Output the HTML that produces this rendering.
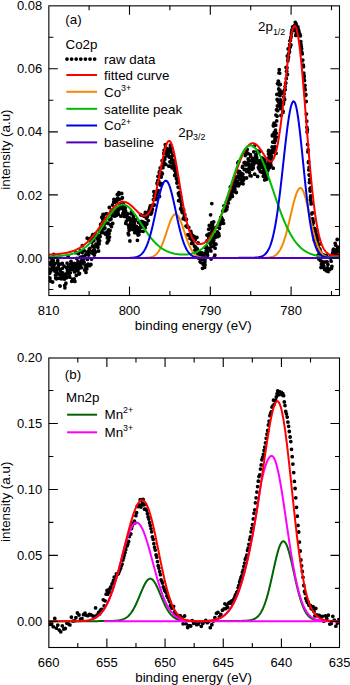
<!DOCTYPE html>
<html><head><meta charset="utf-8"><style>
html,body{margin:0;padding:0;background:#fff;}
svg{display:block;}
text{font-family:"Liberation Sans", sans-serif;font-size:13px;fill:#000;}
</style></head><body>
<svg width="350" height="685" viewBox="0 0 350 685">
<defs><clipPath id="ca"><rect x="48.7" y="6.0" width="290.90" height="289.40"/></clipPath><clipPath id="cb"><rect x="48.7" y="357.6" width="290.90" height="289.80"/></clipPath></defs>
<g clip-path="url(#ca)">
<path d="M48.7 279.7h0M48.9 277.6h0M49.2 272.1h0M49.4 269.1h0M49.7 273.2h0M49.9 278.1h0M50.2 263.0h0M50.4 281.0h0M50.6 264.4h0M50.9 271.1h0M51.1 270.2h0M51.4 269.5h0M51.6 262.6h0M51.9 260.1h0M52.1 266.3h0M52.3 259.3h0M52.6 282.0h0M52.8 260.9h0M53.1 260.4h0M53.3 261.1h0M53.5 255.9h0M53.8 254.5h0M54.0 265.4h0M54.3 268.5h0M54.5 257.3h0M54.8 271.0h0M55.0 263.3h0M55.2 270.9h0M55.5 275.2h0M55.7 277.9h0M56.0 278.7h0M56.2 268.6h0M56.5 278.8h0M56.7 269.7h0M56.9 272.7h0M57.2 274.4h0M57.4 268.5h0M57.7 260.6h0M57.9 273.5h0M58.2 263.1h0M58.4 266.1h0M58.6 264.7h0M58.9 278.2h0M59.1 269.0h0M59.4 257.3h0M59.6 278.1h0M59.9 285.8h0M60.1 286.1h0M60.3 270.3h0M60.6 274.7h0M60.8 277.8h0M61.1 278.8h0M61.3 272.7h0M61.5 263.9h0M61.8 275.9h0M62.0 273.9h0M62.3 263.3h0M62.5 268.3h0M62.8 272.8h0M63.0 273.4h0M63.2 276.2h0M63.5 278.8h0M63.7 277.6h0M64.0 275.6h0M64.2 266.2h0M64.5 279.1h0M64.7 285.4h0M64.9 287.8h0M65.2 274.6h0M65.4 275.3h0M65.7 283.8h0M65.9 283.2h0M66.2 277.0h0M66.4 277.8h0M66.6 267.7h0M66.9 273.4h0M67.1 263.1h0M67.4 270.3h0M67.6 271.5h0M67.8 267.1h0M68.1 256.5h0M68.3 266.0h0M68.6 273.4h0M68.8 272.6h0M69.1 269.2h0M69.3 273.1h0M69.5 276.2h0M69.8 277.2h0M70.0 267.6h0M70.3 272.7h0M70.5 269.3h0M70.8 263.8h0M71.0 261.4h0M71.2 269.2h0M71.5 263.2h0M71.7 281.3h0M72.0 266.7h0M72.2 265.2h0M72.5 265.0h0M72.7 279.5h0M72.9 264.2h0M73.2 269.8h0M73.4 265.0h0M73.7 267.2h0M73.9 269.0h0M74.2 278.8h0M74.4 263.4h0M74.6 271.9h0M74.9 281.4h0M75.1 267.3h0M75.4 270.4h0M75.6 264.1h0M75.8 252.7h0M76.1 267.4h0M76.3 275.4h0M76.6 266.2h0M76.8 258.4h0M77.1 270.7h0M77.3 264.5h0M77.5 269.6h0M77.8 270.4h0M78.0 261.4h0M78.3 267.0h0M78.5 253.6h0M78.8 273.9h0M79.0 268.4h0M79.2 274.0h0M79.5 273.5h0M79.7 263.0h0M80.0 263.4h0M80.2 257.5h0M80.5 250.6h0M80.7 263.9h0M80.9 264.6h0M81.2 257.1h0M81.4 267.6h0M81.7 260.8h0M81.9 261.4h0M82.2 252.4h0M82.4 245.6h0M82.6 262.9h0M82.9 261.6h0M83.1 256.5h0M83.4 256.8h0M83.6 259.5h0M83.8 262.7h0M84.1 262.3h0M84.3 250.8h0M84.6 270.0h0M84.8 257.0h0M85.1 265.2h0M85.3 265.4h0M85.5 268.0h0M85.8 254.6h0M86.0 272.4h0M86.3 269.0h0M86.5 266.5h0M86.8 268.9h0M87.0 252.1h0M87.2 238.2h0M87.5 259.3h0M87.7 265.6h0M88.0 264.1h0M88.2 251.6h0M88.5 253.2h0M88.7 255.1h0M88.9 239.6h0M89.2 249.2h0M89.4 249.2h0M89.7 265.7h0M89.9 248.3h0M90.2 264.9h0M90.4 252.2h0M90.6 238.4h0M90.9 264.5h0M91.1 241.1h0M91.4 252.0h0M91.6 259.1h0M91.8 242.2h0M92.1 236.6h0M92.3 253.0h0M92.6 246.0h0M92.8 234.7h0M93.1 236.8h0M93.3 238.5h0M93.5 250.4h0M93.8 240.5h0M94.0 247.4h0M94.3 255.1h0M94.5 250.2h0M94.8 251.9h0M95.0 252.4h0M95.2 233.8h0M95.5 251.9h0M95.7 246.3h0M96.0 244.2h0M96.2 237.6h0M96.5 235.2h0M96.7 236.9h0M96.9 244.7h0M97.2 236.6h0M97.4 237.4h0M97.7 238.7h0M97.9 247.3h0M98.1 240.8h0M98.4 241.9h0M98.6 251.0h0M98.9 238.6h0M99.1 243.9h0M99.4 231.1h0M99.6 240.8h0M99.8 235.4h0M100.1 236.6h0M100.3 229.4h0M100.6 224.5h0M100.8 228.9h0M101.1 224.9h0M101.3 232.3h0M101.5 230.7h0M101.8 217.2h0M102.0 229.3h0M102.3 222.6h0M102.5 229.0h0M102.8 219.3h0M103.0 214.5h0M103.2 232.7h0M103.5 228.9h0M103.7 217.3h0M104.0 214.4h0M104.2 224.8h0M104.5 219.0h0M104.7 223.4h0M104.9 228.0h0M105.2 233.5h0M105.4 219.6h0M105.7 234.3h0M105.9 234.1h0M106.1 222.6h0M106.4 213.7h0M106.6 233.2h0M106.9 231.9h0M107.1 242.9h0M107.4 237.9h0M107.6 236.9h0M107.8 241.7h0M108.1 223.4h0M108.3 233.3h0M108.6 229.8h0M108.8 240.2h0M109.1 233.5h0M109.3 207.5h0M109.5 237.1h0M109.8 219.8h0M110.0 230.5h0M110.3 219.7h0M110.5 224.9h0M110.8 225.1h0M111.0 218.9h0M111.2 211.3h0M111.5 226.5h0M111.7 215.0h0M112.0 210.1h0M112.2 215.6h0M112.5 205.1h0M112.7 223.4h0M112.9 210.4h0M113.2 211.3h0M113.4 211.7h0M113.7 202.2h0M113.9 199.5h0M114.1 210.3h0M114.4 210.6h0M114.6 216.2h0M114.9 210.7h0M115.1 202.2h0M115.4 213.4h0M115.6 214.3h0M115.8 215.7h0M116.1 210.4h0M116.3 199.3h0M116.6 215.3h0M116.8 201.1h0M117.1 208.2h0M117.3 194.4h0M117.5 209.4h0M117.8 198.1h0M118.0 211.6h0M118.3 214.2h0M118.5 209.8h0M118.8 192.7h0M119.0 194.3h0M119.2 199.4h0M119.5 208.3h0M119.7 207.3h0M120.0 205.3h0M120.2 208.4h0M120.5 206.8h0M120.7 206.7h0M120.9 216.2h0M121.2 204.4h0M121.4 208.5h0M121.7 193.4h0M121.9 198.6h0M122.1 205.9h0M122.4 197.7h0M122.6 208.0h0M122.9 213.4h0M123.1 203.6h0M123.4 204.1h0M123.6 206.2h0M123.8 211.3h0M124.1 206.5h0M124.3 216.4h0M124.6 215.3h0M124.8 213.5h0M125.1 216.3h0M125.3 207.6h0M125.5 210.6h0M125.8 223.4h0M126.0 213.5h0M126.3 221.3h0M126.5 216.7h0M126.8 213.7h0M127.0 215.2h0M127.2 213.4h0M127.5 218.6h0M127.7 213.8h0M128.0 218.7h0M128.2 233.4h0M128.4 225.3h0M128.7 234.8h0M128.9 228.2h0M129.2 230.4h0M129.4 217.9h0M129.7 219.9h0M129.9 241.0h0M130.1 228.2h0M130.4 229.1h0M130.6 223.1h0M130.9 228.1h0M131.1 213.8h0M131.4 211.9h0M131.6 221.5h0M131.8 225.5h0M132.1 219.4h0M132.3 224.4h0M132.6 225.9h0M132.8 229.5h0M133.1 218.3h0M133.3 216.9h0M133.5 227.6h0M133.8 215.5h0M134.0 220.8h0M134.3 223.4h0M134.5 222.0h0M134.8 232.7h0M135.0 226.8h0M135.2 228.0h0M135.5 219.7h0M135.7 219.9h0M136.0 230.6h0M136.2 231.9h0M136.4 226.3h0M136.7 232.6h0M136.9 229.7h0M137.2 229.0h0M137.4 240.3h0M137.7 228.3h0M137.9 234.3h0M138.1 235.1h0M138.4 229.8h0M138.6 222.6h0M138.9 234.6h0M139.1 231.7h0M139.4 231.0h0M139.6 228.7h0M139.8 227.6h0M140.1 222.3h0M140.3 231.2h0M140.6 214.6h0M140.8 225.2h0M141.1 215.1h0M141.3 221.3h0M141.5 227.0h0M141.8 222.2h0M142.0 221.9h0M142.3 226.8h0M142.5 222.1h0M142.8 222.4h0M143.0 221.9h0M143.2 231.3h0M143.5 225.2h0M143.7 224.9h0M144.0 216.2h0M144.2 224.3h0M144.4 215.3h0M144.7 223.0h0M144.9 214.8h0M145.2 227.7h0M145.4 212.5h0M145.7 224.9h0M145.9 223.1h0M146.1 213.0h0M146.4 218.2h0M146.6 224.3h0M146.9 223.8h0M147.1 213.4h0M147.4 216.4h0M147.6 213.4h0M147.8 212.9h0M148.1 214.2h0M148.3 220.6h0M148.6 213.4h0M148.8 211.3h0M149.1 210.2h0M149.3 212.1h0M149.5 212.2h0M149.8 208.0h0M150.0 213.6h0M150.3 206.0h0M150.5 208.4h0M150.8 209.9h0M151.0 214.1h0M151.2 206.0h0M151.5 208.8h0M151.7 212.5h0M152.0 209.1h0M152.2 210.1h0M152.4 209.2h0M152.7 205.2h0M152.9 205.0h0M153.2 205.2h0M153.4 199.6h0M153.7 205.3h0M153.9 191.7h0M154.1 195.8h0M154.4 204.8h0M154.6 198.6h0M154.9 193.2h0M155.1 196.7h0M155.4 198.9h0M155.6 192.5h0M155.8 199.4h0M156.1 193.6h0M156.3 194.0h0M156.6 194.2h0M156.8 198.2h0M157.1 183.2h0M157.3 184.1h0M157.5 192.5h0M157.8 180.6h0M158.0 176.5h0M158.3 190.6h0M158.5 183.3h0M158.7 180.9h0M159.0 181.8h0M159.2 172.2h0M159.5 196.4h0M159.7 171.4h0M160.0 174.4h0M160.2 167.9h0M160.4 176.0h0M160.7 185.2h0M160.9 173.7h0M161.2 177.0h0M161.4 167.9h0M161.7 183.7h0M161.9 172.9h0M162.1 160.7h0M162.4 173.8h0M162.6 165.2h0M162.9 167.7h0M163.1 165.6h0M163.4 163.9h0M163.6 161.6h0M163.8 153.4h0M164.1 150.3h0M164.3 163.2h0M164.6 157.8h0M164.8 159.2h0M165.1 152.7h0M165.3 144.7h0M165.5 147.9h0M165.8 164.4h0M166.0 150.8h0M166.3 154.2h0M166.5 148.4h0M166.7 153.5h0M167.0 155.7h0M167.2 154.2h0M167.5 154.7h0M167.7 149.4h0M168.0 150.7h0M168.2 155.0h0M168.4 154.9h0M168.7 152.0h0M168.9 166.2h0M169.2 157.1h0M169.4 156.6h0M169.7 149.8h0M169.9 161.8h0M170.1 148.0h0M170.4 145.2h0M170.6 151.9h0M170.9 162.8h0M171.1 152.0h0M171.4 166.8h0M171.6 159.0h0M171.8 148.6h0M172.1 156.3h0M172.3 167.9h0M172.6 155.4h0M172.8 155.1h0M173.1 162.8h0M173.3 165.9h0M173.5 165.2h0M173.8 160.3h0M174.0 164.6h0M174.3 165.6h0M174.5 170.3h0M174.7 175.5h0M175.0 169.0h0M175.2 174.6h0M175.5 168.7h0M175.7 173.1h0M176.0 168.6h0M176.2 171.8h0M176.4 178.8h0M176.7 174.7h0M176.9 183.1h0M177.2 178.5h0M177.4 181.3h0M177.7 181.8h0M177.9 182.6h0M178.1 187.1h0M178.4 193.5h0M178.6 200.7h0M178.9 187.6h0M179.1 195.4h0M179.4 194.3h0M179.6 192.3h0M179.8 200.3h0M180.1 197.1h0M180.3 201.2h0M180.6 208.9h0M180.8 197.5h0M181.1 207.9h0M181.3 209.4h0M181.5 204.5h0M181.9 211.7h0M182.3 212.5h0M182.7 211.1h0M183.2 218.8h0M183.6 209.8h0M184.0 217.6h0M184.4 215.8h0M184.8 214.7h0M185.2 219.0h0M185.6 219.8h0M186.0 226.1h0M186.4 219.4h0M186.8 225.6h0M187.2 227.1h0M187.6 234.8h0M188.0 227.0h0M188.4 234.8h0M188.8 227.6h0M189.2 235.2h0M189.6 235.5h0M190.0 238.4h0M190.4 234.8h0M190.8 231.5h0M191.2 233.3h0M191.6 243.4h0M192.0 239.9h0M192.4 235.4h0M192.8 243.0h0M193.3 237.0h0M193.7 238.9h0M194.1 236.4h0M194.5 246.2h0M194.9 250.1h0M195.3 239.5h0M195.7 247.1h0M196.1 251.5h0M196.5 257.1h0M196.9 237.4h0M197.3 248.8h0M197.7 254.8h0M198.1 243.0h0M198.5 255.1h0M198.9 254.3h0M199.3 257.7h0M199.7 254.8h0M200.1 261.6h0M200.5 253.9h0M200.9 262.4h0M201.3 259.7h0M201.7 256.9h0M202.1 252.8h0M202.5 268.3h0M202.9 263.7h0M203.4 264.5h0M203.8 255.5h0M204.2 257.2h0M204.6 267.4h0M205.0 259.6h0M205.4 247.4h0M205.8 252.7h0M206.2 250.9h0M206.6 246.7h0M207.0 240.9h0M207.4 252.5h0M207.8 248.8h0M208.2 241.3h0M208.6 229.3h0M209.0 233.8h0M209.4 237.5h0M209.8 242.8h0M210.2 235.4h0M210.6 243.5h0M211.0 238.2h0M211.4 232.5h0M211.8 222.6h0M212.2 230.3h0M212.6 229.1h0M213.0 235.4h0M213.5 238.4h0M213.9 243.1h0M214.3 235.2h0M214.7 228.2h0M215.1 248.2h0M215.5 237.2h0M215.9 234.2h0M216.3 234.4h0M216.7 227.1h0M217.1 234.5h0M217.5 231.8h0M217.9 236.5h0M218.3 235.1h0M218.7 233.7h0M219.1 235.8h0M219.5 228.3h0M219.9 224.8h0M220.3 222.5h0M220.7 217.3h0M221.1 221.1h0M221.5 217.4h0M221.9 223.2h0M222.3 219.2h0M222.7 211.2h0M223.1 220.3h0M223.6 223.3h0M224.0 205.8h0M224.4 209.3h0M224.8 210.9h0M225.2 205.6h0M225.6 208.8h0M226.0 210.2h0M226.4 201.9h0M226.8 209.2h0M227.2 206.7h0M227.6 198.1h0M228.0 200.7h0M228.4 203.1h0M228.8 195.4h0M229.0 199.1h0M229.3 197.5h0M229.5 194.3h0M229.8 198.9h0M230.0 194.8h0M230.3 186.9h0M230.5 195.5h0M230.7 196.7h0M231.0 195.5h0M231.2 186.3h0M231.5 192.6h0M231.7 196.7h0M232.0 191.1h0M232.2 195.4h0M232.4 196.4h0M232.7 186.6h0M232.9 189.9h0M233.2 185.3h0M233.4 191.8h0M233.7 182.2h0M233.9 178.9h0M234.1 184.4h0M234.4 184.2h0M234.6 187.0h0M234.9 189.4h0M235.1 177.9h0M235.3 179.2h0M235.6 185.3h0M235.8 184.5h0M236.1 181.4h0M236.3 192.5h0M236.6 185.5h0M236.8 177.7h0M237.0 181.6h0M237.3 182.1h0M237.5 176.6h0M237.8 162.8h0M238.0 171.2h0M238.3 172.6h0M238.5 185.8h0M238.7 161.6h0M239.0 184.8h0M239.2 174.1h0M239.5 179.0h0M239.7 171.6h0M240.0 175.8h0M240.2 183.2h0M240.4 176.9h0M240.7 182.8h0M240.9 177.5h0M241.2 174.6h0M241.4 175.0h0M241.7 173.7h0M241.9 173.8h0M242.1 181.1h0M242.4 167.3h0M242.6 166.5h0M242.9 174.2h0M243.1 183.8h0M243.3 178.7h0M243.6 180.0h0M243.8 177.7h0M244.1 162.8h0M244.3 169.7h0M244.6 152.2h0M244.8 162.3h0M245.0 169.5h0M245.3 155.6h0M245.5 151.1h0M245.8 154.7h0M246.0 164.9h0M246.3 169.6h0M246.5 178.0h0M246.7 171.6h0M247.0 153.2h0M247.2 149.5h0M247.5 164.0h0M247.7 170.5h0M248.0 153.3h0M248.2 159.0h0M248.4 161.8h0M248.7 163.3h0M248.9 160.7h0M249.2 167.5h0M249.4 172.4h0M249.6 166.2h0M249.9 169.1h0M250.1 175.7h0M250.4 154.7h0M250.6 156.1h0M250.9 165.8h0M251.1 175.9h0M251.3 165.2h0M251.6 168.8h0M251.8 160.7h0M252.1 169.3h0M252.3 158.4h0M252.6 165.9h0M252.8 162.9h0M253.0 161.5h0M253.3 168.1h0M253.5 164.9h0M253.8 151.8h0M254.0 162.3h0M254.3 146.2h0M254.5 160.2h0M254.7 174.2h0M255.0 159.4h0M255.2 158.1h0M255.5 156.0h0M255.7 162.5h0M256.0 154.7h0M256.2 161.8h0M256.4 156.5h0M256.7 157.8h0M256.9 162.1h0M257.2 160.1h0M257.4 151.0h0M257.6 176.4h0M257.9 161.6h0M258.1 151.5h0M258.4 167.5h0M258.6 162.2h0M258.9 164.2h0M259.1 169.2h0M259.3 161.4h0M259.6 151.5h0M259.8 164.9h0M260.1 167.5h0M260.3 171.5h0M260.6 160.5h0M260.8 161.7h0M261.0 166.6h0M261.3 163.6h0M261.5 166.0h0M261.8 167.3h0M262.0 158.0h0M262.3 172.4h0M262.4 158.4h0M262.5 164.4h0M262.7 163.5h0M262.8 158.8h0M263.0 166.7h0M263.1 172.6h0M263.3 176.3h0M263.4 171.6h0M263.6 166.2h0M263.7 173.5h0M263.9 160.8h0M264.0 169.7h0M264.1 172.0h0M264.3 172.6h0M264.4 161.4h0M264.6 159.4h0M264.7 179.9h0M264.9 169.0h0M265.0 161.4h0M265.2 163.7h0M265.3 171.2h0M265.5 179.0h0M265.6 172.1h0M265.7 179.0h0M265.9 175.7h0M266.0 176.8h0M266.2 179.3h0M266.3 173.4h0M266.5 179.0h0M266.6 175.3h0M266.8 173.3h0M266.9 179.1h0M267.1 170.0h0M267.2 174.6h0M267.3 167.8h0M267.5 169.3h0M267.6 165.9h0M267.8 170.5h0M267.9 164.5h0M268.1 163.9h0M268.2 169.2h0M268.4 151.2h0M268.5 153.9h0M268.7 150.3h0M268.8 158.0h0M268.9 161.3h0M269.1 161.7h0M269.2 160.1h0M269.4 156.1h0M269.5 167.6h0M269.7 162.9h0M269.8 160.3h0M270.0 156.3h0M270.1 163.7h0M270.3 158.3h0M270.4 159.0h0M270.5 163.5h0M270.7 162.1h0M270.8 155.0h0M271.0 165.5h0M271.1 152.3h0M271.3 151.2h0M271.4 159.9h0M271.6 158.0h0M271.7 156.1h0M271.9 151.4h0M272.0 152.5h0M272.1 146.9h0M272.3 135.8h0M272.4 150.3h0M272.6 134.8h0M272.7 142.1h0M272.9 150.5h0M273.0 142.2h0M273.2 168.2h0M273.3 125.3h0M273.5 125.9h0M273.6 135.4h0M273.7 147.4h0M273.9 133.7h0M274.0 123.2h0M274.2 150.0h0M274.3 132.5h0M274.5 142.4h0M274.6 152.6h0M274.8 133.9h0M274.9 139.2h0M275.1 146.6h0M275.2 138.5h0M275.3 147.4h0M275.5 130.2h0M275.6 140.3h0M275.8 125.2h0M275.9 115.1h0M276.1 153.3h0M276.2 133.2h0M276.4 137.1h0M276.5 109.8h0M276.7 120.9h0M276.8 109.7h0M276.9 94.4h0M277.1 116.2h0M277.2 99.5h0M277.4 105.9h0M277.5 83.6h0M277.7 110.7h0M277.8 106.1h0M278.0 100.9h0M278.1 83.7h0M278.3 81.1h0M278.4 101.6h0M278.5 81.4h0M278.7 89.0h0M278.8 84.8h0M279.0 72.9h0M279.1 104.1h0M279.3 69.6h0M279.4 92.9h0M279.6 90.9h0M279.7 73.2h0M279.9 90.2h0M280.0 95.7h0M280.1 93.8h0M280.3 84.5h0M280.4 100.0h0M280.6 108.4h0M280.7 101.1h0M281.0 115.4h0M281.2 106.2h0M281.5 102.3h0M281.7 108.8h0M281.9 92.1h0M282.2 93.0h0M282.4 103.8h0M282.7 103.3h0M282.9 112.4h0M283.1 111.5h0M283.4 104.1h0M283.6 102.3h0M283.9 97.0h0M284.1 93.8h0M284.4 90.3h0M284.6 99.5h0M284.8 89.7h0M285.1 86.6h0M285.3 89.6h0M285.6 83.3h0M285.8 83.0h0M286.1 67.4h0M286.3 78.4h0M286.5 71.2h0M286.8 71.2h0M287.0 67.8h0M287.3 55.9h0M287.5 74.5h0M287.8 60.8h0M288.0 59.2h0M288.2 48.9h0M288.5 57.0h0M288.7 53.4h0M289.0 48.1h0M289.2 49.4h0M289.5 51.8h0M289.7 44.6h0M289.9 40.8h0M290.2 47.0h0M290.4 40.4h0M290.7 38.1h0M290.9 45.0h0M291.1 36.6h0M291.4 33.6h0M291.6 32.5h0M291.9 30.0h0M292.1 30.8h0M292.4 29.8h0M292.6 26.8h0M292.8 27.3h0M293.1 28.5h0M293.3 28.4h0M293.6 28.8h0M293.8 28.5h0M294.1 26.4h0M294.3 27.6h0M294.5 25.7h0M294.8 27.0h0M295.0 30.2h0M295.3 22.3h0M295.5 29.1h0M295.8 35.4h0M296.0 23.6h0M296.2 33.3h0M296.5 25.6h0M296.7 29.7h0M297.0 31.0h0M297.2 31.2h0M297.5 27.1h0M297.7 26.9h0M297.9 26.9h0M298.2 29.6h0M298.4 29.6h0M298.7 30.3h0M298.9 31.4h0M299.1 32.8h0M299.4 34.1h0M299.6 34.9h0M299.9 34.1h0M300.1 41.6h0M300.4 35.8h0M300.6 43.1h0M300.8 41.6h0M301.1 45.0h0M301.3 46.6h0M301.6 48.7h0M301.8 52.1h0M302.1 53.3h0M302.3 53.8h0M302.5 60.8h0M302.8 60.1h0M303.0 66.8h0M303.3 65.1h0M303.5 66.7h0M303.8 73.2h0M304.0 77.7h0M304.2 76.0h0M304.5 80.5h0M304.7 88.1h0M305.0 85.3h0M305.2 89.8h0M305.5 95.5h0M305.7 94.4h0M305.9 94.7h0M306.2 101.5h0M306.4 114.1h0M306.7 121.2h0M306.9 127.3h0M307.1 132.0h0M307.4 129.6h0M307.6 144.4h0M307.9 151.9h0M308.1 149.8h0M308.4 162.6h0M308.6 161.7h0M308.8 169.8h0M309.1 174.8h0M309.2 167.5h0M309.4 182.6h0M309.5 175.3h0M309.7 179.6h0M309.8 179.6h0M310.0 188.6h0M310.1 190.4h0M310.2 191.0h0M310.4 199.8h0M310.5 197.2h0M310.7 196.0h0M310.8 187.6h0M311.0 201.6h0M311.1 203.9h0M311.3 203.9h0M311.4 203.7h0M311.6 213.9h0M311.7 219.1h0M311.8 222.9h0M312.0 220.7h0M312.1 213.2h0M312.3 218.9h0M312.4 212.9h0M312.6 224.5h0M312.7 221.9h0M312.9 218.9h0M313.0 222.4h0M313.2 222.9h0M313.3 221.6h0M313.4 231.3h0M313.6 236.1h0M313.7 230.1h0M313.9 232.3h0M314.0 229.9h0M314.2 228.6h0M314.3 239.9h0M314.5 228.5h0M314.6 231.7h0M314.8 230.4h0M314.9 234.2h0M315.0 232.2h0M315.2 236.4h0M315.3 230.1h0M315.5 235.9h0M315.6 242.1h0M315.8 233.1h0M315.9 233.8h0M316.1 242.1h0M316.2 237.6h0M316.4 241.0h0M316.5 230.0h0M316.6 239.9h0M316.8 234.4h0M316.9 234.4h0M317.1 241.9h0M317.2 245.1h0M317.4 235.9h0M317.5 238.4h0M317.7 240.4h0M317.8 243.9h0M318.0 239.9h0M318.1 255.1h0M318.2 249.6h0M318.4 245.3h0M318.5 245.0h0M318.7 257.5h0M318.8 258.9h0M319.0 248.4h0M319.1 249.9h0M319.3 253.5h0M319.4 244.1h0M319.6 248.8h0M319.7 257.2h0M319.8 250.3h0M320.0 252.6h0M320.1 249.8h0M320.3 254.3h0M320.4 260.5h0M320.6 254.6h0M320.7 252.5h0M320.9 255.6h0M321.0 267.5h0M321.4 264.3h0M321.8 261.5h0M322.2 265.1h0M322.6 267.0h0M323.0 264.9h0M323.4 255.0h0M323.8 266.0h0M324.2 262.2h0M324.6 269.5h0M325.1 257.0h0M325.5 268.9h0M325.9 261.9h0M326.3 255.3h0M326.7 270.9h0M327.1 261.8h0M327.5 267.9h0M327.9 264.5h0M328.3 271.6h0M328.7 270.8h0M329.1 270.0h0M329.5 269.6h0M329.9 256.8h0M330.3 258.0h0M330.7 268.8h0M331.1 261.2h0M331.5 268.4h0M331.9 266.5h0M332.3 254.6h0M332.7 252.7h0M333.1 250.1h0M333.5 249.2h0M333.9 250.5h0M334.3 253.5h0M334.7 253.3h0M335.2 243.3h0M335.6 245.1h0M336.0 253.7h0M336.4 251.9h0M336.8 249.4h0M337.2 239.5h0M337.6 247.2h0M338.0 251.6h0M338.4 247.9h0M338.8 255.4h0M339.2 247.7h0M339.6 247.5h0M199.5 251.7h0M201.3 253.8h0M203.0 258.9h0M204.9 262.0h0M198.5 258.0h0M205.0 265.0h0M203.1 258.6h0M200.7 259.1h0M205.6 253.8h0M202.2 256.8h0M206.3 251.2h0M207.6 255.3h0M214.9 255.1h0M210.8 227.7h0M216.0 244.2h0M212.5 230.4h0M211.3 246.5h0M212.6 225.1h0M213.8 240.0h0M209.8 249.0h0M211.2 246.3h0M210.5 240.7h0M208.5 240.9h0M208.7 238.1h0M206.9 235.1h0M212.8 242.3h0M213.7 221.9h0M214.3 257.1h0M209.3 225.5h0M210.5 235.7h0M211.8 203.6h0M212.6 232.6h0M209.6 248.4h0M210.9 250.9h0M212.5 231.8h0M213.6 246.5h0M210.6 214.8h0M210.5 244.0h0M211.1 259.1h0M212.0 238.5h0" stroke="#000" stroke-width="3.8" stroke-linecap="round" fill="none"/>
<polyline points="48.70,254.68 49.19,254.65 49.67,254.63 50.16,254.60 50.64,254.58 51.13,254.55 51.61,254.52 52.10,254.49 52.58,254.46 53.07,254.43 53.56,254.40 54.04,254.36 54.53,254.33 55.01,254.29 55.50,254.25 55.98,254.21 56.47,254.17 56.96,254.13 57.44,254.09 57.93,254.04 58.41,253.99 58.90,253.94 59.38,253.89 59.87,253.83 60.35,253.78 60.84,253.72 61.33,253.66 61.81,253.59 62.30,253.53 62.78,253.46 63.27,253.38 63.75,253.31 64.24,253.23 64.73,253.14 65.21,253.06 65.70,252.97 66.18,252.87 66.67,252.77 67.15,252.67 67.64,252.56 68.12,252.45 68.61,252.34 69.10,252.21 69.58,252.09 70.07,251.96 70.55,251.82 71.04,251.68 71.52,251.53 72.01,251.37 72.49,251.21 72.98,251.04 73.47,250.87 73.95,250.68 74.44,250.50 74.92,250.30 75.41,250.09 75.89,249.88 76.38,249.66 76.87,249.43 77.35,249.20 77.84,248.95 78.32,248.70 78.81,248.43 79.29,248.16 79.78,247.88 80.26,247.58 80.75,247.28 81.24,246.97 81.72,246.65 82.21,246.31 82.69,245.97 83.18,245.62 83.66,245.25 84.15,244.88 84.64,244.49 85.12,244.09 85.61,243.68 86.09,243.26 86.58,242.82 87.06,242.38 87.55,241.92 88.03,241.46 88.52,240.98 89.01,240.49 89.49,239.98 89.98,239.47 90.46,238.94 90.95,238.41 91.43,237.86 91.92,237.30 92.40,236.73 92.89,236.14 93.38,235.55 93.86,234.95 94.35,234.34 94.83,233.71 95.32,233.08 95.80,232.44 96.29,231.79 96.78,231.13 97.26,230.46 97.75,229.78 98.23,229.10 98.72,228.41 99.20,227.71 99.69,227.01 100.17,226.30 100.66,225.59 101.15,224.87 101.63,224.15 102.12,223.42 102.60,222.70 103.09,221.97 103.57,221.24 104.06,220.51 104.55,219.78 105.03,219.06 105.52,218.33 106.00,217.61 106.49,216.89 106.97,216.18 107.46,215.47 107.94,214.77 108.43,214.08 108.92,213.39 109.40,212.72 109.89,212.05 110.37,211.40 110.86,210.76 111.34,210.14 111.83,209.53 112.31,208.93 112.80,208.35 113.29,207.79 113.77,207.25 114.26,206.73 114.74,206.23 115.23,205.76 115.71,205.30 116.20,204.87 116.69,204.46 117.17,204.08 117.66,203.73 118.14,203.40 118.63,203.11 119.11,202.84 119.60,202.60 120.08,202.39 120.57,202.21 121.06,202.06 121.54,201.94 122.03,201.85 122.51,201.79 123.00,201.77 123.48,201.77 123.97,201.81 124.46,201.87 124.94,201.97 125.43,202.10 125.91,202.25 126.40,202.44 126.88,202.65 127.37,202.88 127.85,203.15 128.34,203.44 128.83,203.75 129.31,204.08 129.80,204.44 130.28,204.82 130.77,205.21 131.25,205.62 131.74,206.05 132.22,206.49 132.71,206.95 133.20,207.42 133.68,207.89 134.17,208.37 134.65,208.86 135.14,209.35 135.62,209.84 136.11,210.33 136.60,210.82 137.08,211.30 137.57,211.77 138.05,212.24 138.54,212.68 139.02,213.11 139.51,213.53 139.99,213.91 140.48,214.28 140.97,214.61 141.45,214.91 141.94,215.18 142.42,215.40 142.91,215.59 143.39,215.72 143.88,215.81 144.37,215.84 144.85,215.81 145.34,215.72 145.82,215.56 146.31,215.33 146.79,215.03 147.28,214.65 147.76,214.19 148.25,213.64 148.74,213.01 149.22,212.28 149.71,211.46 150.19,210.55 150.68,209.54 151.16,208.42 151.65,207.21 152.13,205.90 152.62,204.48 153.11,202.96 153.59,201.35 154.08,199.63 154.56,197.82 155.05,195.91 155.53,193.92 156.02,191.84 156.51,189.69 156.99,187.46 157.48,185.16 157.96,182.81 158.45,180.40 158.93,177.96 159.42,175.48 159.90,172.99 160.39,170.49 160.88,168.00 161.36,165.52 161.85,163.07 162.33,160.68 162.82,158.34 163.30,156.09 163.79,153.93 164.28,151.88 164.76,149.96 165.25,148.18 165.73,146.56 166.22,145.12 166.70,143.87 167.19,142.83 167.67,142.00 168.16,141.40 168.65,141.03 169.13,140.91 169.62,141.03 170.10,141.39 170.59,142.00 171.07,142.85 171.56,143.94 172.04,145.25 172.53,146.77 173.02,148.50 173.50,150.42 173.99,152.51 174.47,154.75 174.96,157.14 175.44,159.66 175.93,162.28 176.42,165.00 176.90,167.80 177.39,170.66 177.87,173.56 178.36,176.50 178.84,179.46 179.33,182.42 179.81,185.38 180.30,188.32 180.79,191.24 181.27,194.11 181.76,196.94 182.24,199.72 182.73,202.43 183.21,205.07 183.70,207.64 184.19,210.12 184.67,212.52 185.16,214.83 185.64,217.06 186.13,219.18 186.61,221.21 187.10,223.15 187.58,224.98 188.07,226.72 188.56,228.36 189.04,229.91 189.53,231.36 190.01,232.71 190.50,233.98 190.98,235.15 191.47,236.24 191.95,237.24 192.44,238.16 192.93,239.01 193.41,239.77 193.90,240.46 194.38,241.09 194.87,241.64 195.35,242.14 195.84,242.57 196.33,242.94 196.81,243.25 197.30,243.52 197.78,243.73 198.27,243.89 198.75,244.01 199.24,244.09 199.72,244.12 200.21,244.11 200.70,244.07 201.18,243.99 201.67,243.87 202.15,243.72 202.64,243.53 203.12,243.31 203.61,243.07 204.09,242.79 204.58,242.48 205.07,242.14 205.55,241.78 206.04,241.38 206.52,240.96 207.01,240.51 207.49,240.04 207.98,239.54 208.47,239.01 208.95,238.45 209.44,237.87 209.92,237.26 210.41,236.62 210.89,235.95 211.38,235.26 211.86,234.55 212.35,233.80 212.84,233.03 213.32,232.23 213.81,231.41 214.29,230.55 214.78,229.68 215.26,228.77 215.75,227.84 216.24,226.88 216.72,225.89 217.21,224.88 217.69,223.84 218.18,222.78 218.66,221.69 219.15,220.57 219.63,219.43 220.12,218.27 220.61,217.08 221.09,215.87 221.58,214.63 222.06,213.37 222.55,212.09 223.03,210.79 223.52,209.47 224.00,208.13 224.49,206.77 224.98,205.39 225.46,204.00 225.95,202.59 226.43,201.16 226.92,199.72 227.40,198.27 227.89,196.81 228.38,195.34 228.86,193.85 229.35,192.37 229.83,190.87 230.32,189.37 230.80,187.87 231.29,186.36 231.77,184.86 232.26,183.36 232.75,181.86 233.23,180.36 233.72,178.87 234.20,177.39 234.69,175.92 235.17,174.46 235.66,173.02 236.15,171.58 236.63,170.17 237.12,168.77 237.60,167.40 238.09,166.05 238.57,164.72 239.06,163.41 239.54,162.14 240.03,160.89 240.52,159.67 241.00,158.49 241.49,157.34 241.97,156.22 242.46,155.14 242.94,154.10 243.43,153.10 243.91,152.15 244.40,151.23 244.89,150.36 245.37,149.54 245.86,148.76 246.34,148.03 246.83,147.35 247.31,146.72 247.80,146.13 248.29,145.60 248.77,145.13 249.26,144.70 249.74,144.33 250.23,144.02 250.71,143.75 251.20,143.54 251.68,143.39 252.17,143.29 252.66,143.25 253.14,143.26 253.63,143.32 254.11,143.44 254.60,143.60 255.08,143.82 255.57,144.10 256.06,144.42 256.54,144.78 257.03,145.20 257.51,145.66 258.00,146.16 258.48,146.71 258.97,147.29 259.45,147.90 259.94,148.55 260.43,149.23 260.91,149.94 261.40,150.67 261.88,151.41 262.37,152.17 262.85,152.94 263.34,153.71 263.82,154.48 264.31,155.25 264.80,156.00 265.28,156.73 265.77,157.44 266.25,158.12 266.74,158.75 267.22,159.33 267.71,159.86 268.20,160.33 268.68,160.72 269.17,161.03 269.65,161.26 270.14,161.38 270.62,161.39 271.11,161.29 271.59,161.06 272.08,160.69 272.57,160.18 273.05,159.52 273.54,158.69 274.02,157.70 274.51,156.53 274.99,155.18 275.48,153.64 275.97,151.90 276.45,149.97 276.94,147.84 277.42,145.51 277.91,142.97 278.39,140.23 278.88,137.29 279.36,134.16 279.85,130.83 280.34,127.32 280.82,123.63 281.31,119.78 281.79,115.77 282.28,111.63 282.76,107.36 283.25,102.98 283.73,98.52 284.22,93.98 284.71,89.40 285.19,84.79 285.68,80.18 286.16,75.59 286.65,71.05 287.13,66.59 287.62,62.23 288.11,58.00 288.59,53.93 289.08,50.04 289.56,46.35 290.05,42.91 290.53,39.72 291.02,36.81 291.50,34.21 291.99,31.94 292.48,30.01 292.96,28.44 293.45,27.25 293.93,26.44 294.42,26.03 294.90,26.03 295.39,26.44 295.88,27.26 296.36,28.50 296.85,30.14 297.33,32.19 297.82,34.63 298.30,37.46 298.79,40.65 299.27,44.21 299.76,48.10 300.25,52.32 300.73,56.83 301.22,61.62 301.70,66.66 302.19,71.93 302.67,77.40 303.16,83.05 303.64,88.85 304.13,94.77 304.62,100.78 305.10,106.87 305.59,113.00 306.07,119.15 306.56,125.29 307.04,131.41 307.53,137.47 308.02,143.47 308.50,149.37 308.99,155.16 309.47,160.83 309.96,166.35 310.44,171.73 310.93,176.93 311.41,181.97 311.90,186.82 312.39,191.48 312.87,195.94 313.36,200.21 313.84,204.28 314.33,208.14 314.81,211.80 315.30,215.27 315.79,218.53 316.27,221.60 316.76,224.49 317.24,227.18 317.73,229.70 318.21,232.04 318.70,234.22 319.18,236.24 319.67,238.10 320.16,239.82 320.64,241.41 321.13,242.86 321.61,244.19 322.10,245.41 322.58,246.51 323.07,247.52 323.55,248.44 324.04,249.27 324.53,250.02 325.01,250.69 325.50,251.30 325.98,251.85 326.47,252.33 326.95,252.77 327.44,253.16 327.93,253.51 328.41,253.82 328.90,254.09 329.38,254.34 329.87,254.55 330.35,254.74 330.84,254.91 331.32,255.05 331.81,255.18 332.30,255.30 332.78,255.39 333.27,255.48 333.75,255.56 334.24,255.62 334.72,255.68 335.21,255.73 335.70,255.77 336.18,255.81 336.67,255.84 337.15,255.87 337.64,255.90 338.12,255.92 338.61,255.94 339.09,255.95 339.58,255.97" fill="none" stroke="#ff0000" stroke-width="2.0" stroke-linejoin="round"/>
<polyline points="48.70,258.00 49.19,258.00 49.67,258.00 50.16,258.00 50.64,258.00 51.13,258.00 51.61,258.00 52.10,258.00 52.58,258.00 53.07,258.00 53.56,258.00 54.04,258.00 54.53,258.00 55.01,258.00 55.50,258.00 55.98,258.00 56.47,258.00 56.96,258.00 57.44,258.00 57.93,258.00 58.41,258.00 58.90,258.00 59.38,258.00 59.87,258.00 60.35,258.00 60.84,258.00 61.33,258.00 61.81,258.00 62.30,258.00 62.78,258.00 63.27,258.00 63.75,258.00 64.24,258.00 64.73,258.00 65.21,258.00 65.70,258.00 66.18,258.00 66.67,258.00 67.15,258.00 67.64,258.00 68.12,258.00 68.61,258.00 69.10,258.00 69.58,258.00 70.07,258.00 70.55,258.00 71.04,258.00 71.52,258.00 72.01,258.00 72.49,258.00 72.98,258.00 73.47,258.00 73.95,258.00 74.44,258.00 74.92,258.00 75.41,258.00 75.89,258.00 76.38,258.00 76.87,258.00 77.35,258.00 77.84,258.00 78.32,258.00 78.81,258.00 79.29,258.00 79.78,258.00 80.26,258.00 80.75,258.00 81.24,258.00 81.72,258.00 82.21,258.00 82.69,258.00 83.18,258.00 83.66,258.00 84.15,258.00 84.64,258.00 85.12,258.00 85.61,258.00 86.09,258.00 86.58,258.00 87.06,258.00 87.55,258.00 88.03,258.00 88.52,258.00 89.01,258.00 89.49,258.00 89.98,258.00 90.46,258.00 90.95,258.00 91.43,258.00 91.92,258.00 92.40,258.00 92.89,258.00 93.38,258.00 93.86,258.00 94.35,258.00 94.83,258.00 95.32,258.00 95.80,258.00 96.29,258.00 96.78,258.00 97.26,258.00 97.75,258.00 98.23,258.00 98.72,258.00 99.20,258.00 99.69,258.00 100.17,258.00 100.66,258.00 101.15,258.00 101.63,258.00 102.12,258.00 102.60,258.00 103.09,258.00 103.57,258.00 104.06,258.00 104.55,258.00 105.03,258.00 105.52,258.00 106.00,258.00 106.49,258.00 106.97,258.00 107.46,258.00 107.94,258.00 108.43,258.00 108.92,258.00 109.40,258.00 109.89,258.00 110.37,258.00 110.86,258.00 111.34,258.00 111.83,258.00 112.31,258.00 112.80,258.00 113.29,258.00 113.77,258.00 114.26,258.00 114.74,258.00 115.23,258.00 115.71,258.00 116.20,258.00 116.69,258.00 117.17,258.00 117.66,258.00 118.14,258.00 118.63,258.00 119.11,258.00 119.60,258.00 120.08,258.00 120.57,258.00 121.06,258.00 121.54,258.00 122.03,258.00 122.51,258.00 123.00,258.00 123.48,258.00 123.97,258.00 124.46,258.00 124.94,258.00 125.43,258.00 125.91,258.00 126.40,258.00 126.88,258.00 127.37,258.00 127.85,258.00 128.34,258.00 128.83,258.00 129.31,258.00 129.80,258.00 130.28,258.00 130.77,258.00 131.25,258.00 131.74,258.00 132.22,258.00 132.71,258.00 133.20,258.00 133.68,258.00 134.17,258.00 134.65,258.00 135.14,258.00 135.62,258.00 136.11,258.00 136.60,257.99 137.08,257.99 137.57,257.99 138.05,257.99 138.54,257.99 139.02,257.99 139.51,257.99 139.99,257.99 140.48,257.98 140.97,257.98 141.45,257.98 141.94,257.97 142.42,257.96 142.91,257.96 143.39,257.95 143.88,257.94 144.37,257.92 144.85,257.91 145.34,257.89 145.82,257.86 146.31,257.84 146.79,257.81 147.28,257.77 147.76,257.72 148.25,257.67 148.74,257.61 149.22,257.54 149.71,257.45 150.19,257.36 150.68,257.25 151.16,257.12 151.65,256.97 152.13,256.81 152.62,256.62 153.11,256.40 153.59,256.16 154.08,255.88 154.56,255.58 155.05,255.23 155.53,254.85 156.02,254.43 156.51,253.96 156.99,253.44 157.48,252.88 157.96,252.26 158.45,251.59 158.93,250.86 159.42,250.07 159.90,249.22 160.39,248.31 160.88,247.34 161.36,246.31 161.85,245.22 162.33,244.08 162.82,242.87 163.30,241.62 163.79,240.31 164.28,238.96 164.76,237.57 165.25,236.14 165.73,234.69 166.22,233.22 166.70,231.74 167.19,230.26 167.67,228.79 168.16,227.33 168.65,225.90 169.13,224.50 169.62,223.16 170.10,221.87 170.59,220.66 171.07,219.52 171.56,218.47 172.04,217.51 172.53,216.67 173.02,215.93 173.50,215.32 173.99,214.83 174.47,214.48 174.96,214.25 175.44,214.17 175.93,214.21 176.42,214.40 176.90,214.72 177.39,215.17 177.87,215.74 178.36,216.44 178.84,217.26 179.33,218.18 179.81,219.20 180.30,220.32 180.79,221.51 181.27,222.78 181.76,224.11 182.24,225.49 182.73,226.91 183.21,228.36 183.70,229.83 184.19,231.31 184.67,232.79 185.16,234.27 185.64,235.72 186.13,237.16 186.61,238.56 187.10,239.92 187.58,241.24 188.07,242.51 188.56,243.73 189.04,244.90 189.53,246.00 190.01,247.05 190.50,248.04 190.98,248.96 191.47,249.83 191.95,250.63 192.44,251.38 192.93,252.07 193.41,252.70 193.90,253.28 194.38,253.81 194.87,254.29 195.35,254.73 195.84,255.13 196.33,255.48 196.81,255.80 197.30,256.08 197.78,256.33 198.27,256.56 198.75,256.75 199.24,256.93 199.72,257.08 200.21,257.21 200.70,257.33 201.18,257.43 201.67,257.51 202.15,257.59 202.64,257.65 203.12,257.71 203.61,257.75 204.09,257.79 204.58,257.83 205.07,257.86 205.55,257.88 206.04,257.90 206.52,257.92 207.01,257.93 207.49,257.94 207.98,257.95 208.47,257.96 208.95,257.97 209.44,257.97 209.92,257.98 210.41,257.98 210.89,257.98 211.38,257.99 211.86,257.99 212.35,257.99 212.84,257.99 213.32,257.99 213.81,257.99 214.29,257.99 214.78,257.99 215.26,257.99 215.75,258.00 216.24,258.00 216.72,258.00 217.21,258.00 217.69,258.00 218.18,258.00 218.66,258.00 219.15,258.00 219.63,258.00 220.12,258.00 220.61,258.00 221.09,258.00 221.58,258.00 222.06,258.00 222.55,258.00 223.03,258.00 223.52,258.00 224.00,258.00 224.49,258.00 224.98,258.00 225.46,258.00 225.95,258.00 226.43,258.00 226.92,258.00 227.40,258.00 227.89,258.00 228.38,258.00 228.86,258.00 229.35,258.00 229.83,258.00 230.32,258.00 230.80,258.00 231.29,258.00 231.77,258.00 232.26,258.00 232.75,258.00 233.23,258.00 233.72,258.00 234.20,258.00 234.69,258.00 235.17,258.00 235.66,258.00 236.15,258.00 236.63,258.00 237.12,258.00 237.60,258.00 238.09,258.00 238.57,258.00 239.06,258.00 239.54,258.00 240.03,258.00 240.52,258.00 241.00,258.00 241.49,258.00 241.97,258.00 242.46,258.00 242.94,258.00 243.43,258.00 243.91,258.00 244.40,258.00 244.89,258.00 245.37,258.00 245.86,258.00 246.34,258.00 246.83,258.00 247.31,258.00 247.80,258.00 248.29,258.00 248.77,258.00 249.26,258.00 249.74,258.00 250.23,258.00 250.71,258.00 251.20,258.00 251.68,258.00 252.17,258.00 252.66,257.99 253.14,257.99 253.63,257.99 254.11,257.99 254.60,257.99 255.08,257.99 255.57,257.99 256.06,257.99 256.54,257.99 257.03,257.99 257.51,257.99 258.00,257.99 258.48,257.99 258.97,257.99 259.45,257.98 259.94,257.98 260.43,257.98 260.91,257.97 261.40,257.97 261.88,257.96 262.37,257.96 262.85,257.95 263.34,257.94 263.82,257.93 264.31,257.91 264.80,257.90 265.28,257.88 265.77,257.86 266.25,257.83 266.74,257.80 267.22,257.76 267.71,257.72 268.20,257.67 268.68,257.62 269.17,257.55 269.65,257.48 270.14,257.40 270.62,257.30 271.11,257.19 271.59,257.06 272.08,256.91 272.57,256.75 273.05,256.56 273.54,256.35 274.02,256.12 274.51,255.85 274.99,255.56 275.48,255.23 275.97,254.86 276.45,254.46 276.94,254.01 277.42,253.51 277.91,252.97 278.39,252.37 278.88,251.72 279.36,251.01 279.85,250.23 280.34,249.39 280.82,248.49 281.31,247.51 281.79,246.47 282.28,245.35 282.76,244.15 283.25,242.88 283.73,241.53 284.22,240.11 284.71,238.61 285.19,237.04 285.68,235.39 286.16,233.67 286.65,231.89 287.13,230.05 287.62,228.15 288.11,226.19 288.59,224.19 289.08,222.16 289.56,220.09 290.05,218.01 290.53,215.91 291.02,213.81 291.50,211.72 291.99,209.64 292.48,207.60 292.96,205.60 293.45,203.66 293.93,201.78 294.42,199.98 294.90,198.26 295.39,196.65 295.88,195.14 296.36,193.76 296.85,192.51 297.33,191.40 297.82,190.43 298.30,189.62 298.79,188.96 299.27,188.47 299.76,188.15 300.25,188.00 300.73,188.03 301.22,188.24 301.70,188.65 302.19,189.25 302.67,190.04 303.16,191.00 303.64,192.13 304.13,193.42 304.62,194.86 305.10,196.44 305.59,198.15 306.07,199.97 306.56,201.90 307.04,203.91 307.53,205.99 308.02,208.13 308.50,210.32 308.99,212.54 309.47,214.77 309.96,217.01 310.44,219.24 310.93,221.45 311.41,223.63 311.90,225.77 312.39,227.86 312.87,229.89 313.36,231.86 313.84,233.76 314.33,235.58 314.81,237.33 315.30,238.99 315.79,240.56 316.27,242.05 316.76,243.45 317.24,244.77 317.73,246.00 318.21,247.14 318.70,248.21 319.18,249.19 319.67,250.10 320.16,250.93 320.64,251.69 321.13,252.39 321.61,253.02 322.10,253.60 322.58,254.11 323.07,254.58 323.55,255.00 324.04,255.37 324.53,255.71 325.01,256.01 325.50,256.27 325.98,256.50 326.47,256.71 326.95,256.89 327.44,257.04 327.93,257.18 328.41,257.30 328.90,257.40 329.38,257.49 329.87,257.57 330.35,257.64 330.84,257.69 331.32,257.74 331.81,257.78 332.30,257.82 332.78,257.85 333.27,257.87 333.75,257.89 334.24,257.91 334.72,257.93 335.21,257.94 335.70,257.95 336.18,257.96 336.67,257.96 337.15,257.97 337.64,257.97 338.12,257.98 338.61,257.98 339.09,257.98 339.58,257.99" fill="none" stroke="#f58a00" stroke-width="2.0" stroke-linejoin="round"/>
<polyline points="48.70,256.60 49.19,256.58 49.67,256.56 50.16,256.54 50.64,256.52 51.13,256.49 51.61,256.47 52.10,256.45 52.58,256.42 53.07,256.40 53.56,256.37 54.04,256.35 54.53,256.32 55.01,256.29 55.50,256.26 55.98,256.23 56.47,256.20 56.96,256.16 57.44,256.13 57.93,256.09 58.41,256.05 58.90,256.01 59.38,255.97 59.87,255.93 60.35,255.88 60.84,255.84 61.33,255.79 61.81,255.74 62.30,255.68 62.78,255.63 63.27,255.57 63.75,255.51 64.24,255.45 64.73,255.38 65.21,255.31 65.70,255.24 66.18,255.16 66.67,255.08 67.15,255.00 67.64,254.91 68.12,254.82 68.61,254.73 69.10,254.63 69.58,254.52 70.07,254.41 70.55,254.30 71.04,254.18 71.52,254.05 72.01,253.92 72.49,253.79 72.98,253.65 73.47,253.50 73.95,253.34 74.44,253.18 74.92,253.01 75.41,252.84 75.89,252.65 76.38,252.46 76.87,252.26 77.35,252.06 77.84,251.84 78.32,251.62 78.81,251.38 79.29,251.14 79.78,250.89 80.26,250.63 80.75,250.36 81.24,250.08 81.72,249.79 82.21,249.48 82.69,249.17 83.18,248.85 83.66,248.51 84.15,248.16 84.64,247.81 85.12,247.44 85.61,247.05 86.09,246.66 86.58,246.25 87.06,245.84 87.55,245.41 88.03,244.96 88.52,244.51 89.01,244.04 89.49,243.56 89.98,243.06 90.46,242.56 90.95,242.04 91.43,241.51 91.92,240.96 92.40,240.40 92.89,239.83 93.38,239.25 93.86,238.66 94.35,238.06 94.83,237.44 95.32,236.81 95.80,236.17 96.29,235.52 96.78,234.86 97.26,234.19 97.75,233.51 98.23,232.82 98.72,232.12 99.20,231.42 99.69,230.70 100.17,229.98 100.66,229.25 101.15,228.52 101.63,227.78 102.12,227.04 102.60,226.29 103.09,225.54 103.57,224.78 104.06,224.03 104.55,223.27 105.03,222.52 105.52,221.76 106.00,221.01 106.49,220.26 106.97,219.52 107.46,218.77 107.94,218.04 108.43,217.31 108.92,216.59 109.40,215.88 109.89,215.18 110.37,214.50 110.86,213.82 111.34,213.16 111.83,212.52 112.31,211.89 112.80,211.28 113.29,210.68 113.77,210.11 114.26,209.56 114.74,209.04 115.23,208.53 115.71,208.06 116.20,207.61 116.69,207.18 117.17,206.79 117.66,206.42 118.14,206.09 118.63,205.78 119.11,205.51 119.60,205.27 120.08,205.07 120.57,204.90 121.06,204.76 121.54,204.66 122.03,204.60 122.51,204.57 123.00,204.58 123.48,204.62 123.97,204.70 124.46,204.81 124.94,204.96 125.43,205.15 125.91,205.36 126.40,205.61 126.88,205.90 127.37,206.21 127.85,206.56 128.34,206.94 128.83,207.34 129.31,207.78 129.80,208.24 130.28,208.72 130.77,209.24 131.25,209.77 131.74,210.33 132.22,210.91 132.71,211.50 133.20,212.12 133.68,212.75 134.17,213.40 134.65,214.07 135.14,214.75 135.62,215.44 136.11,216.14 136.60,216.85 137.08,217.57 137.57,218.30 138.05,219.03 138.54,219.77 139.02,220.52 139.51,221.26 139.99,222.01 140.48,222.77 140.97,223.52 141.45,224.27 141.94,225.02 142.42,225.77 142.91,226.52 143.39,227.26 143.88,228.00 144.37,228.73 144.85,229.46 145.34,230.18 145.82,230.90 146.31,231.60 146.79,232.30 147.28,232.99 147.76,233.67 148.25,234.35 148.74,235.01 149.22,235.66 149.71,236.30 150.19,236.93 150.68,237.55 151.16,238.16 151.65,238.75 152.13,239.34 152.62,239.91 153.11,240.47 153.59,241.01 154.08,241.55 154.56,242.07 155.05,242.58 155.53,243.07 156.02,243.56 156.51,244.03 156.99,244.49 157.48,244.93 157.96,245.36 158.45,245.78 158.93,246.19 159.42,246.59 159.90,246.97 160.39,247.34 160.88,247.70 161.36,248.05 161.85,248.38 162.33,248.71 162.82,249.02 163.30,249.32 163.79,249.61 164.28,249.89 164.76,250.16 165.25,250.42 165.73,250.67 166.22,250.91 166.70,251.14 167.19,251.36 167.67,251.57 168.16,251.77 168.65,251.97 169.13,252.15 169.62,252.33 170.10,252.50 170.59,252.66 171.07,252.81 171.56,252.96 172.04,253.09 172.53,253.22 173.02,253.35 173.50,253.47 173.99,253.58 174.47,253.68 174.96,253.78 175.44,253.87 175.93,253.96 176.42,254.04 176.90,254.11 177.39,254.18 177.87,254.25 178.36,254.30 178.84,254.36 179.33,254.40 179.81,254.45 180.30,254.48 180.79,254.51 181.27,254.54 181.76,254.56 182.24,254.57 182.73,254.58 183.21,254.59 183.70,254.59 184.19,254.58 184.67,254.57 185.16,254.55 185.64,254.53 186.13,254.50 186.61,254.47 187.10,254.42 187.58,254.38 188.07,254.32 188.56,254.26 189.04,254.19 189.53,254.12 190.01,254.04 190.50,253.95 190.98,253.85 191.47,253.74 191.95,253.63 192.44,253.50 192.93,253.37 193.41,253.23 193.90,253.08 194.38,252.91 194.87,252.74 195.35,252.56 195.84,252.36 196.33,252.15 196.81,251.93 197.30,251.70 197.78,251.46 198.27,251.20 198.75,250.93 199.24,250.64 199.72,250.34 200.21,250.02 200.70,249.69 201.18,249.33 201.67,248.97 202.15,248.58 202.64,248.18 203.12,247.76 203.61,247.32 204.09,246.86 204.58,246.38 205.07,245.88 205.55,245.35 206.04,244.81 206.52,244.25 207.01,243.66 207.49,243.05 207.98,242.41 208.47,241.75 208.95,241.07 209.44,240.37 209.92,239.63 210.41,238.88 210.89,238.09 211.38,237.28 211.86,236.45 212.35,235.59 212.84,234.70 213.32,233.78 213.81,232.84 214.29,231.87 214.78,230.88 215.26,229.85 215.75,228.80 216.24,227.73 216.72,226.62 217.21,225.49 217.69,224.33 218.18,223.15 218.66,221.94 219.15,220.71 219.63,219.45 220.12,218.17 220.61,216.86 221.09,215.53 221.58,214.17 222.06,212.80 222.55,211.40 223.03,209.99 223.52,208.55 224.00,207.10 224.49,205.63 224.98,204.14 225.46,202.64 225.95,201.12 226.43,199.59 226.92,198.05 227.40,196.51 227.89,194.95 228.38,193.38 228.86,191.82 229.35,190.24 229.83,188.67 230.32,187.09 230.80,185.52 231.29,183.95 231.77,182.39 232.26,180.83 232.75,179.28 233.23,177.74 233.72,176.22 234.20,174.71 234.69,173.21 235.17,171.74 235.66,170.28 236.15,168.85 236.63,167.45 237.12,166.07 237.60,164.71 238.09,163.39 238.57,162.11 239.06,160.85 239.54,159.64 240.03,158.46 240.52,157.32 241.00,156.23 241.49,155.17 241.97,154.17 242.46,153.21 242.94,152.30 243.43,151.44 243.91,150.64 244.40,149.88 244.89,149.19 245.37,148.54 245.86,147.96 246.34,147.43 246.83,146.97 247.31,146.56 247.80,146.21 248.29,145.93 248.77,145.70 249.26,145.54 249.74,145.45 250.23,145.41 250.71,145.44 251.20,145.52 251.68,145.65 252.17,145.83 252.66,146.06 253.14,146.35 253.63,146.69 254.11,147.08 254.60,147.51 255.08,148.00 255.57,148.54 256.06,149.13 256.54,149.76 257.03,150.44 257.51,151.16 258.00,151.93 258.48,152.74 258.97,153.60 259.45,154.49 259.94,155.42 260.43,156.40 260.91,157.40 261.40,158.45 261.88,159.53 262.37,160.64 262.85,161.78 263.34,162.95 263.82,164.15 264.31,165.38 264.80,166.63 265.28,167.90 265.77,169.20 266.25,170.52 266.74,171.86 267.22,173.21 267.71,174.58 268.20,175.97 268.68,177.37 269.17,178.77 269.65,180.19 270.14,181.62 270.62,183.06 271.11,184.50 271.59,185.94 272.08,187.39 272.57,188.84 273.05,190.28 273.54,191.73 274.02,193.17 274.51,194.61 274.99,196.05 275.48,197.48 275.97,198.90 276.45,200.32 276.94,201.72 277.42,203.11 277.91,204.49 278.39,205.86 278.88,207.22 279.36,208.56 279.85,209.89 280.34,211.20 280.82,212.50 281.31,213.77 281.79,215.03 282.28,216.28 282.76,217.50 283.25,218.70 283.73,219.88 284.22,221.05 284.71,222.19 285.19,223.31 285.68,224.41 286.16,225.49 286.65,226.54 287.13,227.58 287.62,228.59 288.11,229.58 288.59,230.54 289.08,231.49 289.56,232.41 290.05,233.31 290.53,234.18 291.02,235.04 291.50,235.87 291.99,236.68 292.48,237.47 292.96,238.23 293.45,238.97 293.93,239.70 294.42,240.40 294.90,241.08 295.39,241.74 295.88,242.37 296.36,242.99 296.85,243.59 297.33,244.17 297.82,244.73 298.30,245.27 298.79,245.79 299.27,246.29 299.76,246.78 300.25,247.25 300.73,247.70 301.22,248.13 301.70,248.55 302.19,248.96 302.67,249.34 303.16,249.72 303.64,250.07 304.13,250.42 304.62,250.75 305.10,251.06 305.59,251.37 306.07,251.66 306.56,251.94 307.04,252.20 307.53,252.46 308.02,252.70 308.50,252.94 308.99,253.16 309.47,253.38 309.96,253.58 310.44,253.77 310.93,253.96 311.41,254.14 311.90,254.31 312.39,254.47 312.87,254.62 313.36,254.77 313.84,254.91 314.33,255.04 314.81,255.16 315.30,255.28 315.79,255.40 316.27,255.51 316.76,255.61 317.24,255.71 317.73,255.80 318.21,255.89 318.70,255.97 319.18,256.05 319.67,256.12 320.16,256.19 320.64,256.26 321.13,256.33 321.61,256.39 322.10,256.44 322.58,256.50 323.07,256.55 323.55,256.60 324.04,256.64 324.53,256.69 325.01,256.73 325.50,256.77 325.98,256.81 326.47,256.84 326.95,256.87 327.44,256.91 327.93,256.94 328.41,256.96 328.90,256.99 329.38,257.02 329.87,257.04 330.35,257.06 330.84,257.08 331.32,257.11 331.81,257.13 332.30,257.14 332.78,257.16 333.27,257.18 333.75,257.19 334.24,257.21 334.72,257.22 335.21,257.24 335.70,257.25 336.18,257.26 336.67,257.27 337.15,257.29 337.64,257.30 338.12,257.31 338.61,257.32 339.09,257.33 339.58,257.34" fill="none" stroke="#00bb00" stroke-width="2.0" stroke-linejoin="round"/>
<polyline points="48.70,257.99 49.19,257.99 49.67,257.99 50.16,257.99 50.64,257.99 51.13,257.99 51.61,257.99 52.10,257.99 52.58,257.99 53.07,257.99 53.56,257.99 54.04,257.99 54.53,257.99 55.01,257.99 55.50,257.99 55.98,257.99 56.47,257.99 56.96,257.99 57.44,257.99 57.93,257.99 58.41,257.99 58.90,257.99 59.38,257.99 59.87,257.99 60.35,257.99 60.84,257.99 61.33,257.99 61.81,257.99 62.30,257.99 62.78,257.99 63.27,257.99 63.75,257.99 64.24,257.99 64.73,257.99 65.21,257.99 65.70,257.99 66.18,257.99 66.67,257.99 67.15,257.99 67.64,257.99 68.12,257.99 68.61,257.99 69.10,257.99 69.58,257.99 70.07,257.99 70.55,257.99 71.04,257.99 71.52,257.99 72.01,257.99 72.49,257.99 72.98,257.99 73.47,257.99 73.95,257.99 74.44,257.99 74.92,257.99 75.41,257.99 75.89,257.99 76.38,257.99 76.87,257.99 77.35,257.99 77.84,257.99 78.32,257.99 78.81,257.99 79.29,257.99 79.78,257.99 80.26,257.99 80.75,257.99 81.24,257.99 81.72,257.99 82.21,257.99 82.69,257.99 83.18,257.99 83.66,257.99 84.15,257.99 84.64,257.99 85.12,257.99 85.61,257.99 86.09,257.99 86.58,257.99 87.06,257.99 87.55,257.99 88.03,257.99 88.52,257.99 89.01,257.99 89.49,257.99 89.98,257.99 90.46,257.99 90.95,257.99 91.43,257.99 91.92,257.99 92.40,257.99 92.89,257.99 93.38,257.99 93.86,257.99 94.35,257.99 94.83,257.99 95.32,257.99 95.80,257.99 96.29,257.99 96.78,257.99 97.26,257.99 97.75,257.99 98.23,257.99 98.72,257.99 99.20,257.99 99.69,257.99 100.17,257.99 100.66,257.99 101.15,257.99 101.63,257.99 102.12,257.99 102.60,257.99 103.09,257.99 103.57,257.99 104.06,257.99 104.55,257.99 105.03,257.99 105.52,257.99 106.00,257.99 106.49,257.99 106.97,257.99 107.46,257.99 107.94,257.99 108.43,257.99 108.92,257.99 109.40,257.99 109.89,257.99 110.37,257.99 110.86,257.99 111.34,257.99 111.83,257.99 112.31,257.99 112.80,257.99 113.29,257.99 113.77,257.99 114.26,257.99 114.74,257.99 115.23,257.99 115.71,257.99 116.20,257.99 116.69,257.99 117.17,257.99 117.66,257.99 118.14,257.99 118.63,257.99 119.11,257.99 119.60,257.99 120.08,257.98 120.57,257.98 121.06,257.98 121.54,257.98 122.03,257.98 122.51,257.98 123.00,257.98 123.48,257.98 123.97,257.98 124.46,257.97 124.94,257.97 125.43,257.97 125.91,257.96 126.40,257.96 126.88,257.95 127.37,257.94 127.85,257.93 128.34,257.92 128.83,257.91 129.31,257.89 129.80,257.88 130.28,257.86 130.77,257.83 131.25,257.80 131.74,257.77 132.22,257.73 132.71,257.68 133.20,257.63 133.68,257.57 134.17,257.50 134.65,257.42 135.14,257.33 135.62,257.22 136.11,257.10 136.60,256.96 137.08,256.80 137.57,256.62 138.05,256.42 138.54,256.20 139.02,255.94 139.51,255.66 139.99,255.34 140.48,254.98 140.97,254.59 141.45,254.15 141.94,253.67 142.42,253.14 142.91,252.55 143.39,251.91 143.88,251.21 144.37,250.45 144.85,249.62 145.34,248.72 145.82,247.75 146.31,246.71 146.79,245.58 147.28,244.38 147.76,243.10 148.25,241.74 148.74,240.30 149.22,238.77 149.71,237.16 150.19,235.47 150.68,233.70 151.16,231.86 151.65,229.94 152.13,227.95 152.62,225.90 153.11,223.79 153.59,221.63 154.08,219.43 154.56,217.19 155.05,214.92 155.53,212.63 156.02,210.34 156.51,208.05 156.99,205.78 157.48,203.53 157.96,201.33 158.45,199.17 158.93,197.08 159.42,195.06 159.90,193.14 160.39,191.31 160.88,189.60 161.36,188.01 161.85,186.55 162.33,185.24 162.82,184.08 163.30,183.08 163.79,182.25 164.28,181.59 164.76,181.11 165.25,180.82 165.73,180.71 166.22,180.78 166.70,181.04 167.19,181.47 167.67,182.09 168.16,182.89 168.65,183.85 169.13,184.97 169.62,186.25 170.10,187.68 170.59,189.24 171.07,190.93 171.56,192.73 172.04,194.64 172.53,196.64 173.02,198.71 173.50,200.86 173.99,203.05 174.47,205.29 174.96,207.56 175.44,209.85 175.93,212.14 176.42,214.43 176.90,216.70 177.39,218.94 177.87,221.16 178.36,223.33 178.84,225.45 179.33,227.51 179.81,229.51 180.30,231.44 180.79,233.30 181.27,235.09 181.76,236.80 182.24,238.42 182.73,239.97 183.21,241.43 183.70,242.81 184.19,244.10 184.67,245.32 185.16,246.46 185.64,247.52 186.13,248.50 186.61,249.42 187.10,250.26 187.58,251.04 188.07,251.75 188.56,252.40 189.04,253.00 189.53,253.54 190.01,254.03 190.50,254.48 190.98,254.88 191.47,255.24 191.95,255.57 192.44,255.86 192.93,256.12 193.41,256.35 193.90,256.56 194.38,256.74 194.87,256.90 195.35,257.04 195.84,257.17 196.33,257.28 196.81,257.37 197.30,257.46 197.78,257.53 198.27,257.59 198.75,257.65 199.24,257.69 199.72,257.73 200.21,257.77 200.70,257.80 201.18,257.82 201.67,257.84 202.15,257.86 202.64,257.87 203.12,257.89 203.61,257.90 204.09,257.91 204.58,257.91 205.07,257.92 205.55,257.92 206.04,257.93 206.52,257.93 207.01,257.93 207.49,257.94 207.98,257.94 208.47,257.94 208.95,257.94 209.44,257.94 209.92,257.94 210.41,257.94 210.89,257.94 211.38,257.94 211.86,257.94 212.35,257.94 212.84,257.94 213.32,257.94 213.81,257.94 214.29,257.94 214.78,257.94 215.26,257.94 215.75,257.94 216.24,257.93 216.72,257.93 217.21,257.93 217.69,257.93 218.18,257.93 218.66,257.93 219.15,257.93 219.63,257.93 220.12,257.93 220.61,257.93 221.09,257.93 221.58,257.93 222.06,257.92 222.55,257.92 223.03,257.92 223.52,257.92 224.00,257.92 224.49,257.92 224.98,257.92 225.46,257.92 225.95,257.92 226.43,257.91 226.92,257.91 227.40,257.91 227.89,257.91 228.38,257.91 228.86,257.91 229.35,257.91 229.83,257.91 230.32,257.90 230.80,257.90 231.29,257.90 231.77,257.90 232.26,257.90 232.75,257.90 233.23,257.90 233.72,257.89 234.20,257.89 234.69,257.89 235.17,257.89 235.66,257.89 236.15,257.88 236.63,257.88 237.12,257.88 237.60,257.88 238.09,257.88 238.57,257.87 239.06,257.87 239.54,257.87 240.03,257.87 240.52,257.87 241.00,257.86 241.49,257.86 241.97,257.86 242.46,257.86 242.94,257.85 243.43,257.85 243.91,257.85 244.40,257.84 244.89,257.84 245.37,257.84 245.86,257.83 246.34,257.83 246.83,257.82 247.31,257.82 247.80,257.81 248.29,257.81 248.77,257.80 249.26,257.80 249.74,257.79 250.23,257.78 250.71,257.77 251.20,257.76 251.68,257.75 252.17,257.74 252.66,257.72 253.14,257.71 253.63,257.69 254.11,257.67 254.60,257.64 255.08,257.61 255.57,257.58 256.06,257.54 256.54,257.50 257.03,257.45 257.51,257.39 258.00,257.32 258.48,257.24 258.97,257.16 259.45,257.05 259.94,256.94 260.43,256.81 260.91,256.66 261.40,256.49 261.88,256.29 262.37,256.07 262.85,255.83 263.34,255.55 263.82,255.23 264.31,254.88 264.80,254.48 265.28,254.03 265.77,253.54 266.25,252.98 266.74,252.37 267.22,251.68 267.71,250.93 268.20,250.10 268.68,249.18 269.17,248.18 269.65,247.08 270.14,245.87 270.62,244.56 271.11,243.14 271.59,241.59 272.08,239.93 272.57,238.13 273.05,236.19 273.54,234.12 274.02,231.90 274.51,229.54 274.99,227.02 275.48,224.35 275.97,221.53 276.45,218.56 276.94,215.43 277.42,212.15 277.91,208.73 278.39,205.16 278.88,201.46 279.36,197.62 279.85,193.67 280.34,189.60 280.82,185.44 281.31,181.19 281.79,176.86 282.28,172.48 282.76,168.05 283.25,163.60 283.73,159.15 284.22,154.72 284.71,150.32 285.19,145.97 285.68,141.71 286.16,137.55 286.65,133.51 287.13,129.62 287.62,125.90 288.11,122.37 288.59,119.05 289.08,115.97 289.56,113.14 290.05,110.57 290.53,108.30 291.02,106.32 291.50,104.66 291.99,103.33 292.48,102.33 292.96,101.67 293.45,101.36 293.93,101.41 294.42,101.87 294.90,102.73 295.39,103.98 295.88,105.63 296.36,107.64 296.85,110.02 297.33,112.73 297.82,115.77 298.30,119.10 298.79,122.70 299.27,126.55 299.76,130.62 300.25,134.88 300.73,139.31 301.22,143.86 301.70,148.53 302.19,153.27 302.67,158.06 303.16,162.88 303.64,167.69 304.13,172.48 304.62,177.23 305.10,181.90 305.59,186.48 306.07,190.96 306.56,195.32 307.04,199.54 307.53,203.61 308.02,207.53 308.50,211.28 308.99,214.86 309.47,218.27 309.96,221.50 310.44,224.55 310.93,227.41 311.41,230.10 311.90,232.62 312.39,234.96 312.87,237.14 313.36,239.16 313.84,241.02 314.33,242.73 314.81,244.30 315.30,245.74 315.79,247.05 316.27,248.24 316.76,249.32 317.24,250.29 317.73,251.17 318.21,251.96 318.70,252.66 319.18,253.29 319.67,253.86 320.16,254.36 320.64,254.80 321.13,255.19 321.61,255.54 322.10,255.84 322.58,256.10 323.07,256.34 323.55,256.54 324.04,256.72 324.53,256.87 325.01,257.00 325.50,257.12 325.98,257.22 326.47,257.30 326.95,257.38 327.44,257.44 327.93,257.50 328.41,257.54 328.90,257.59 329.38,257.62 329.87,257.65 330.35,257.68 330.84,257.70 331.32,257.72 331.81,257.73 332.30,257.75 332.78,257.76 333.27,257.77 333.75,257.78 334.24,257.79 334.72,257.80 335.21,257.81 335.70,257.81 336.18,257.82 336.67,257.82 337.15,257.83 337.64,257.83 338.12,257.84 338.61,257.84 339.09,257.84 339.58,257.85" fill="none" stroke="#0000e6" stroke-width="2.0" stroke-linejoin="round"/>
<line x1="48.7" y1="258.00" x2="339.6" y2="258.00" stroke="#5000be" stroke-width="2"/>
</g>
<rect x="48.85" y="5.85" width="290.65" height="289.65" fill="none" stroke="#000" stroke-width="1.1"/>
<path d="M129.50 295.50V286.50M129.50 5.85V14.85M210.30 295.50V286.50M210.30 5.85V14.85M291.10 295.50V286.50M291.10 5.85V14.85M89.10 295.50V291.00M89.10 5.85V10.35M169.90 295.50V291.00M169.90 5.85V10.35M250.70 295.50V291.00M250.70 5.85V10.35M331.50 295.50V291.00M331.50 5.85V10.35M48.85 258.00H57.85M339.50 258.00H330.50M48.85 194.92H57.85M339.50 194.92H330.50M48.85 131.84H57.85M339.50 131.84H330.50M48.85 68.76H57.85M339.50 68.76H330.50M48.85 289.54H53.35M339.50 289.54H335.00M48.85 226.46H53.35M339.50 226.46H335.00M48.85 163.38H53.35M339.50 163.38H335.00M48.85 100.30H53.35M339.50 100.30H335.00M48.85 37.22H53.35M339.50 37.22H335.00" stroke="#000" stroke-width="1.1" fill="none"/>
<text x="42.20" y="262.60" text-anchor="end" >0.00</text>
<text x="42.20" y="199.52" text-anchor="end" >0.02</text>
<text x="42.20" y="136.44" text-anchor="end" >0.04</text>
<text x="42.20" y="73.36" text-anchor="end" >0.06</text>
<text x="42.20" y="10.28" text-anchor="end" >0.08</text>
<text x="48.70" y="314.80" text-anchor="middle" >810</text>
<text x="129.50" y="314.80" text-anchor="middle" >800</text>
<text x="210.30" y="314.80" text-anchor="middle" >790</text>
<text x="291.10" y="314.80" text-anchor="middle" >780</text>
<text transform="translate(193.20 329.80) scale(1.03 1)" text-anchor="middle" >binding energy (eV)</text>
<text x="0" y="0" text-anchor="middle" transform="translate(10.3 149.6) rotate(-90) scale(1.03 1)">intensity (a.u)</text>
<text transform="translate(65.30 24.00) scale(1.03 1)" text-anchor="start" >(a)</text>
<text transform="translate(65.50 49.30) scale(1.03 1)" text-anchor="start" >Co2p</text>
<path d="M67.00 59.10h0M71.60 59.10h0M76.20 59.10h0M80.80 59.10h0M85.40 59.10h0M90.00 59.10h0M94.60 59.10h0" stroke="#000" stroke-width="3.8" stroke-linecap="round"/>
<line x1="66.3" y1="75.0" x2="97.1" y2="75.0" stroke="#ff0000" stroke-width="2"/>
<line x1="66.3" y1="91.8" x2="97.1" y2="91.8" stroke="#f58a00" stroke-width="2"/>
<line x1="66.3" y1="108.8" x2="97.1" y2="108.8" stroke="#00bb00" stroke-width="2"/>
<line x1="66.3" y1="125.5" x2="97.1" y2="125.5" stroke="#0000e6" stroke-width="2"/>
<line x1="66.3" y1="142.4" x2="97.1" y2="142.4" stroke="#5000be" stroke-width="2"/>
<text transform="translate(104.00 63.90) scale(1.03 1)" text-anchor="start" >raw data</text>
<text transform="translate(104.00 79.80) scale(1.03 1)" text-anchor="start" >fitted curve</text>
<text transform="translate(104.00 96.60) scale(1.03 1)" text-anchor="start" >Co<tspan dy="-5.5" font-size="8.6">3+</tspan></text>
<text transform="translate(104.00 113.60) scale(1.03 1)" text-anchor="start" >satellite peak</text>
<text transform="translate(104.00 130.30) scale(1.03 1)" text-anchor="start" >Co<tspan dy="-5.5" font-size="8.6">2+</tspan></text>
<text transform="translate(104.00 147.20) scale(1.03 1)" text-anchor="start" >baseline</text>
<text transform="translate(258.00 31.10) scale(1.03 1)" text-anchor="start" >2p<tspan dy="3.5" font-size="8.6">1/2</tspan></text>
<text transform="translate(178.20 136.60) scale(1.03 1)" text-anchor="start" >2p<tspan dy="3.5" font-size="8.6">3/2</tspan></text>
<g clip-path="url(#cb)">
<path d="M48.7 624.4h0M50.2 624.2h0M51.7 623.7h0M53.2 626.7h0M54.8 618.4h0M56.3 628.1h0M57.8 625.1h0M59.3 630.1h0M60.8 631.8h0M62.3 625.8h0M63.8 629.1h0M65.3 628.5h0M66.9 623.2h0M68.4 623.8h0M69.9 624.9h0M71.4 617.2h0M72.9 621.1h0M74.4 620.8h0M75.9 617.7h0M77.4 612.9h0M79.0 615.0h0M80.5 619.1h0M82.0 618.6h0M83.5 614.7h0M85.0 613.1h0M86.5 615.3h0M88.0 615.7h0M89.5 614.3h0M91.1 614.9h0M92.6 615.8h0M94.1 616.4h0M95.6 607.9h0M97.1 614.8h0M98.6 612.5h0M99.5 613.9h0M100.5 610.1h0M101.4 609.3h0M102.3 609.7h0M103.3 599.8h0M104.2 605.8h0M105.1 600.8h0M106.1 594.2h0M107.0 590.5h0M107.7 594.2h0M108.4 590.0h0M109.2 592.3h0M109.9 589.0h0M110.6 587.1h0M111.3 587.7h0M112.0 584.1h0M112.8 582.8h0M113.5 580.5h0M114.2 577.2h0M114.9 577.3h0M115.7 577.2h0M116.4 573.8h0M117.1 574.5h0M117.8 574.0h0M118.5 573.5h0M119.3 571.3h0M120.0 569.6h0M120.7 568.0h0M121.4 565.6h0M122.1 564.1h0M122.9 560.1h0M123.6 557.7h0M124.3 555.0h0M125.0 552.5h0M125.8 549.6h0M126.5 546.2h0M127.2 545.7h0M127.9 543.8h0M128.6 541.5h0M129.4 536.6h0M130.1 534.6h0M130.8 533.9h0M131.5 528.6h0M132.2 526.0h0M133.0 523.1h0M133.7 523.4h0M134.4 521.2h0M135.1 522.8h0M135.9 515.7h0M136.6 512.7h0M137.3 506.1h0M138.0 506.6h0M138.7 504.9h0M139.5 505.3h0M140.2 499.7h0M140.9 507.0h0M141.6 500.2h0M142.3 503.5h0M143.1 499.4h0M143.8 504.8h0M144.5 509.2h0M145.2 504.2h0M146.0 509.2h0M146.7 510.3h0M147.4 513.6h0M148.1 517.0h0M148.8 519.1h0M149.6 522.7h0M150.3 525.4h0M151.0 528.6h0M151.7 531.8h0M152.4 536.9h0M153.2 539.4h0M153.9 543.7h0M154.6 547.3h0M155.3 550.1h0M156.1 554.9h0M156.8 557.2h0M157.5 561.6h0M158.2 565.7h0M158.9 568.1h0M159.7 571.6h0M160.4 574.7h0M161.1 579.8h0M161.8 581.1h0M162.5 583.0h0M163.3 586.9h0M164.0 588.3h0M164.7 590.4h0M165.4 591.4h0M166.2 592.4h0M166.9 595.7h0M167.6 597.2h0M168.3 597.6h0M169.0 599.9h0M169.8 601.7h0M170.5 605.4h0M171.2 607.2h0M171.9 608.3h0M172.6 606.8h0M173.6 606.3h0M174.5 611.9h0M175.4 614.0h0M176.4 617.3h0M177.3 615.2h0M178.2 616.1h0M179.2 619.2h0M180.1 615.6h0M181.6 617.3h0M183.1 623.8h0M184.6 616.0h0M186.1 623.8h0M187.7 627.5h0M189.2 625.6h0M190.7 626.0h0M192.2 620.6h0M193.7 623.3h0M195.2 622.2h0M196.7 624.7h0M198.2 624.0h0M199.8 621.8h0M201.3 626.3h0M202.8 623.4h0M204.3 621.6h0M205.8 620.5h0M207.3 622.7h0M208.8 621.6h0M210.3 627.7h0M211.9 624.7h0M213.4 621.0h0M214.9 617.7h0M216.4 613.3h0M217.9 612.3h0M219.4 617.0h0M220.9 614.5h0M222.4 610.2h0M224.0 608.9h0M224.9 603.8h0M225.8 608.6h0M226.8 605.1h0M227.7 607.2h0M228.6 603.2h0M229.5 602.3h0M230.5 603.1h0M231.4 601.1h0M232.3 603.4h0M233.1 600.3h0M233.8 599.2h0M234.5 598.0h0M235.2 595.7h0M235.9 594.3h0M236.7 592.3h0M237.4 591.6h0M238.1 587.8h0M238.8 585.6h0M239.6 582.2h0M240.3 580.0h0M241.0 577.4h0M241.7 576.0h0M242.4 572.2h0M243.2 570.1h0M243.9 566.4h0M244.6 563.2h0M245.3 559.2h0M246.0 557.7h0M246.8 555.2h0M247.5 550.4h0M248.2 548.1h0M248.9 544.3h0M249.7 539.6h0M250.4 536.9h0M251.1 531.8h0M251.8 528.3h0M252.5 524.6h0M253.3 518.9h0M254.0 513.3h0M254.7 509.8h0M255.4 502.8h0M256.1 497.8h0M256.9 492.1h0M257.6 486.6h0M258.3 481.2h0M259.0 476.5h0M259.8 474.9h0M260.5 469.1h0M261.2 464.9h0M261.9 459.8h0M262.6 457.7h0M263.4 454.4h0M264.1 450.5h0M264.8 447.1h0M265.5 442.8h0M266.2 438.3h0M267.0 434.2h0M267.7 430.5h0M268.4 425.0h0M269.1 421.2h0M269.9 415.7h0M270.6 413.4h0M271.3 412.0h0M272.0 407.1h0M272.7 406.2h0M273.5 400.2h0M274.2 404.3h0M274.9 400.5h0M275.6 400.1h0M276.3 396.9h0M277.1 393.7h0M277.8 391.0h0M278.5 394.8h0M279.2 394.0h0M280.0 391.9h0M280.7 393.7h0M281.4 392.4h0M282.1 394.9h0M282.8 393.7h0M283.6 395.7h0M284.3 401.9h0M285.0 405.6h0M285.7 411.3h0M286.4 413.8h0M287.2 417.1h0M287.9 422.1h0M288.6 426.3h0M289.3 431.5h0M290.1 437.0h0M290.8 441.6h0M291.5 449.3h0M292.2 456.7h0M292.9 464.1h0M293.7 472.6h0M294.4 481.4h0M295.1 488.5h0M295.8 497.8h0M296.5 507.3h0M297.3 516.2h0M298.0 525.4h0M298.7 532.0h0M299.4 542.1h0M300.2 551.0h0M300.9 560.0h0M301.6 565.8h0M302.3 571.5h0M303.0 577.3h0M303.8 585.5h0M304.5 591.5h0M305.2 593.5h0M305.9 598.4h0M306.6 600.7h0M307.4 602.4h0M308.1 601.9h0M308.8 605.0h0M309.5 605.5h0M310.3 605.3h0M311.2 608.4h0M312.1 609.2h0M313.0 606.6h0M314.0 611.4h0M314.9 615.9h0M315.8 608.4h0M316.8 614.9h0M317.7 615.7h0M319.2 615.3h0M320.7 616.8h0M322.2 616.5h0M323.8 621.2h0M325.3 615.8h0M326.8 618.6h0M328.3 615.2h0M329.8 624.1h0M331.3 623.5h0M332.8 616.3h0M334.3 620.1h0M335.9 626.2h0M337.4 623.1h0M338.9 619.6h0" stroke="#000" stroke-width="3.8" stroke-linecap="round" fill="none"/>
<polyline points="48.70,621.28 49.19,621.28 49.67,621.28 50.16,621.28 50.64,621.28 51.13,621.28 51.61,621.28 52.10,621.28 52.59,621.28 53.07,621.28 53.56,621.28 54.04,621.27 54.53,621.27 55.01,621.27 55.50,621.27 55.98,621.27 56.47,621.27 56.96,621.27 57.44,621.27 57.93,621.27 58.41,621.27 58.90,621.27 59.38,621.27 59.87,621.27 60.36,621.27 60.84,621.26 61.33,621.26 61.81,621.26 62.30,621.26 62.78,621.26 63.27,621.26 63.75,621.26 64.24,621.26 64.73,621.26 65.21,621.26 65.70,621.26 66.18,621.25 66.67,621.25 67.15,621.25 67.64,621.25 68.13,621.25 68.61,621.25 69.10,621.25 69.58,621.25 70.07,621.25 70.55,621.25 71.04,621.24 71.53,621.24 72.01,621.24 72.50,621.24 72.98,621.24 73.47,621.24 73.95,621.24 74.44,621.24 74.92,621.23 75.41,621.23 75.90,621.23 76.38,621.23 76.87,621.23 77.35,621.23 77.84,621.23 78.32,621.22 78.81,621.22 79.30,621.22 79.78,621.22 80.27,621.22 80.75,621.22 81.24,621.21 81.72,621.21 82.21,621.21 82.69,621.21 83.18,621.21 83.67,621.21 84.15,621.20 84.64,621.20 85.12,621.20 85.61,621.20 86.09,621.20 86.58,621.19 87.07,621.19 87.55,621.19 88.04,621.19 88.52,621.18 89.01,621.18 89.49,621.18 89.98,621.18 90.47,621.18 90.95,621.17 91.44,621.17 91.92,621.17 92.41,621.16 92.89,621.16 93.38,621.16 93.86,621.16 94.35,621.15 94.84,621.15 95.32,621.15 95.81,621.14 96.29,621.14 96.78,621.14 97.26,621.13 97.75,621.13 98.24,621.13 98.72,621.12 99.21,621.12 99.69,621.11 100.18,621.11 100.66,621.11 101.15,621.10 101.64,621.10 102.12,621.09 102.61,621.09 103.09,621.08 103.58,621.08 104.06,621.07 104.55,621.07 105.03,621.06 105.52,621.05 106.01,621.05 106.49,621.04 106.98,621.03 107.46,621.02 107.95,621.02 108.43,621.01 108.92,621.00 109.41,620.99 109.89,620.98 110.38,620.96 110.86,620.95 111.35,620.94 111.83,620.92 112.32,620.90 112.80,620.88 113.29,620.86 113.78,620.84 114.26,620.81 114.75,620.78 115.23,620.75 115.72,620.72 116.20,620.68 116.69,620.63 117.18,620.58 117.66,620.53 118.15,620.47 118.63,620.40 119.12,620.32 119.60,620.24 120.09,620.14 120.58,620.04 121.06,619.92 121.55,619.80 122.03,619.65 122.52,619.50 123.00,619.33 123.49,619.14 123.97,618.93 124.46,618.70 124.95,618.45 125.43,618.18 125.92,617.88 126.40,617.56 126.89,617.21 127.37,616.83 127.86,616.42 128.35,615.98 128.83,615.50 129.32,615.00 129.80,614.45 130.29,613.87 130.77,613.26 131.26,612.60 131.74,611.91 132.23,611.17 132.72,610.40 133.20,609.59 133.69,608.74 134.17,607.86 134.66,606.93 135.14,605.97 135.63,604.98 136.12,603.95 136.60,602.90 137.09,601.81 137.57,600.71 138.06,599.58 138.54,598.43 139.03,597.27 139.52,596.10 140.00,594.93 140.49,593.75 140.97,592.58 141.46,591.42 141.94,590.28 142.43,589.16 142.91,588.06 143.40,587.00 143.89,585.97 144.37,585.00 144.86,584.07 145.34,583.20 145.83,582.39 146.31,581.64 146.80,580.98 147.29,580.38 147.77,579.87 148.26,579.45 148.74,579.11 149.23,578.86 149.71,578.71 150.20,578.65 150.68,578.68 151.17,578.81 151.66,579.04 152.14,579.35 152.63,579.76 153.11,580.24 153.60,580.82 154.08,581.47 154.57,582.19 155.06,582.98 155.54,583.84 156.03,584.75 156.51,585.72 157.00,586.73 157.48,587.79 157.97,588.87 158.46,589.99 158.94,591.13 159.43,592.28 159.91,593.45 160.40,594.62 160.88,595.80 161.37,596.97 161.85,598.13 162.34,599.28 162.83,600.41 163.31,601.53 163.80,602.61 164.28,603.68 164.77,604.71 165.25,605.71 165.74,606.68 166.23,607.61 166.71,608.51 167.20,609.37 167.68,610.19 168.17,610.97 168.65,611.71 169.14,612.41 169.63,613.07 170.11,613.70 170.60,614.29 171.08,614.84 171.57,615.36 172.05,615.84 172.54,616.29 173.02,616.70 173.51,617.09 174.00,617.44 174.48,617.77 174.97,618.08 175.45,618.35 175.94,618.61 176.42,618.84 176.91,619.05 177.40,619.25 177.88,619.42 178.37,619.58 178.85,619.73 179.34,619.86 179.82,619.97 180.31,620.08 180.79,620.18 181.28,620.26 181.77,620.34 182.25,620.41 182.74,620.47 183.22,620.53 183.71,620.58 184.19,620.62 184.68,620.66 185.17,620.70 185.65,620.73 186.14,620.76 186.62,620.78 187.11,620.81 187.59,620.83 188.08,620.85 188.57,620.86 189.05,620.88 189.54,620.89 190.02,620.91 190.51,620.92 190.99,620.93 191.48,620.94 191.96,620.95 192.45,620.95 192.94,620.96 193.42,620.97 193.91,620.98 194.39,620.98 194.88,620.99 195.36,620.99 195.85,621.00 196.34,621.00 196.82,621.01 197.31,621.01 197.79,621.01 198.28,621.02 198.76,621.02 199.25,621.03 199.73,621.03 200.22,621.03 200.71,621.03 201.19,621.04 201.68,621.04 202.16,621.04 202.65,621.05 203.13,621.05 203.62,621.05 204.11,621.05 204.59,621.05 205.08,621.06 205.56,621.06 206.05,621.06 206.53,621.06 207.02,621.06 207.51,621.06 207.99,621.06 208.48,621.07 208.96,621.07 209.45,621.07 209.93,621.07 210.42,621.07 210.90,621.07 211.39,621.07 211.88,621.07 212.36,621.07 212.85,621.07 213.33,621.07 213.82,621.07 214.30,621.07 214.79,621.07 215.28,621.07 215.76,621.07 216.25,621.07 216.73,621.07 217.22,621.07 217.70,621.07 218.19,621.07 218.67,621.07 219.16,621.07 219.65,621.07 220.13,621.07 220.62,621.07 221.10,621.07 221.59,621.07 222.07,621.06 222.56,621.06 223.05,621.06 223.53,621.06 224.02,621.06 224.50,621.06 224.99,621.06 225.47,621.05 225.96,621.05 226.45,621.05 226.93,621.05 227.42,621.04 227.90,621.04 228.39,621.04 228.87,621.04 229.36,621.03 229.84,621.03 230.33,621.03 230.82,621.03 231.30,621.02 231.79,621.02 232.27,621.02 232.76,621.01 233.24,621.01 233.73,621.00 234.22,621.00 234.70,621.00 235.19,620.99 235.67,620.99 236.16,620.98 236.64,620.97 237.13,620.97 237.62,620.96 238.10,620.96 238.59,620.95 239.07,620.94 239.56,620.93 240.04,620.92 240.53,620.91 241.01,620.90 241.50,620.89 241.99,620.88 242.47,620.87 242.96,620.85 243.44,620.83 243.93,620.81 244.41,620.79 244.90,620.77 245.39,620.74 245.87,620.71 246.36,620.68 246.84,620.64 247.33,620.60 247.81,620.55 248.30,620.49 248.78,620.43 249.27,620.37 249.76,620.29 250.24,620.20 250.73,620.10 251.21,619.99 251.70,619.87 252.18,619.73 252.67,619.58 253.16,619.41 253.64,619.22 254.13,619.00 254.61,618.77 255.10,618.50 255.58,618.21 256.07,617.89 256.56,617.54 257.04,617.15 257.53,616.72 258.01,616.25 258.50,615.74 258.98,615.18 259.47,614.57 259.95,613.91 260.44,613.20 260.93,612.43 261.41,611.59 261.90,610.70 262.38,609.74 262.87,608.71 263.35,607.61 263.84,606.44 264.33,605.20 264.81,603.89 265.30,602.50 265.78,601.04 266.27,599.51 266.75,597.90 267.24,596.22 267.72,594.47 268.21,592.66 268.70,590.78 269.18,588.84 269.67,586.84 270.15,584.79 270.64,582.70 271.12,580.57 271.61,578.41 272.10,576.22 272.58,574.02 273.07,571.80 273.55,569.59 274.04,567.39 274.52,565.21 275.01,563.07 275.50,560.96 275.98,558.91 276.47,556.92 276.95,555.00 277.44,553.17 277.92,551.44 278.41,549.81 278.89,548.29 279.38,546.91 279.87,545.65 280.35,544.54 280.84,543.59 281.32,542.78 281.81,542.15 282.29,541.67 282.78,541.37 283.27,541.25 283.75,541.29 284.24,541.51 284.72,541.91 285.21,542.47 285.69,543.19 286.18,544.08 286.66,545.12 287.15,546.31 287.64,547.63 288.12,549.09 288.61,550.67 289.09,552.35 289.58,554.14 290.06,556.02 290.55,557.98 291.04,560.00 291.52,562.09 292.01,564.22 292.49,566.38 292.98,568.57 293.46,570.78 293.95,572.99 294.44,575.20 294.92,577.40 295.41,579.58 295.89,581.72 296.38,583.83 296.86,585.90 297.35,587.92 297.83,589.89 298.32,591.80 298.81,593.65 299.29,595.43 299.78,597.14 300.26,598.78 300.75,600.35 301.23,601.85 301.72,603.27 302.21,604.62 302.69,605.89 303.18,607.10 303.66,608.23 304.15,609.29 304.63,610.28 305.12,611.21 305.61,612.07 306.09,612.87 306.58,613.61 307.06,614.30 307.55,614.93 308.03,615.51 308.52,616.05 309.00,616.54 309.49,616.98 309.98,617.39 310.46,617.76 310.95,618.10 311.43,618.40 311.92,618.68 312.40,618.93 312.89,619.15 313.38,619.35 313.86,619.54 314.35,619.70 314.83,619.84 315.32,619.97 315.80,620.09 316.29,620.19 316.77,620.29 317.26,620.37 317.75,620.44 318.23,620.51 318.72,620.56 319.20,620.62 319.69,620.66 320.17,620.70 320.66,620.74 321.15,620.77 321.63,620.80 322.12,620.83 322.60,620.85 323.09,620.87 323.57,620.89 324.06,620.91 324.55,620.92 325.03,620.94 325.52,620.95 326.00,620.96 326.49,620.97 326.97,620.98 327.46,620.99 327.94,621.00 328.43,621.01 328.92,621.02 329.40,621.02 329.89,621.03 330.37,621.04 330.86,621.04 331.34,621.05 331.83,621.06 332.32,621.06 332.80,621.07 333.29,621.07 333.77,621.08 334.26,621.08 334.74,621.09 335.23,621.09 335.71,621.09 336.20,621.10 336.69,621.10 337.17,621.11 337.66,621.11 338.14,621.12 338.63,621.12 339.11,621.12 339.60,621.13" fill="none" stroke="#006400" stroke-width="2.0" stroke-linejoin="round"/>
<line x1="104" y1="621.35" x2="339.6" y2="621.35" stroke="#ff00ff" stroke-width="2"/>
<polyline points="89.43,620.09 89.84,619.99 90.26,619.88 90.68,619.77 91.10,619.65 91.51,619.52 91.93,619.38 92.35,619.23 92.77,619.07 93.18,618.90 93.60,618.73 94.02,618.54 94.44,618.34 94.86,618.12 95.27,617.90 95.69,617.66 96.11,617.41 96.53,617.14 96.94,616.86 97.36,616.56 97.78,616.25 98.20,615.92 98.61,615.57 99.03,615.21 99.45,614.82 99.87,614.42 100.28,614.00 100.70,613.55 101.12,613.09 101.54,612.60 101.96,612.09 102.37,611.56 102.79,611.01 103.21,610.43 103.63,609.83 104.04,609.20 104.46,608.55 104.88,607.87 105.30,607.16 105.71,606.43 106.13,605.67 106.55,604.88 106.97,604.07 107.39,603.22 107.80,602.35 108.22,601.45 108.64,600.52 109.06,599.56 109.47,598.57 109.89,597.55 110.31,596.50 110.73,595.43 111.14,594.32 111.56,593.19 111.98,592.02 112.40,590.83 112.81,589.61 113.23,588.36 113.65,587.09 114.07,585.78 114.49,584.45 114.90,583.10 115.32,581.72 115.74,580.31 116.16,578.88 116.57,577.43 116.99,575.95 117.41,574.45 117.83,572.94 118.24,571.40 118.66,569.84 119.08,568.27 119.50,566.68 119.91,565.08 120.33,563.46 120.75,561.83 121.17,560.18 121.59,558.53 122.00,556.87 122.42,555.20 122.84,553.53 123.26,551.85 123.67,550.24 124.09,548.80 124.51,547.42 124.93,545.95 125.34,544.50 125.76,543.09 126.18,541.70 126.60,540.34 127.01,539.01 127.43,537.72 127.85,536.47 128.27,535.26 128.69,534.10 129.10,532.98 129.52,531.91 129.94,530.88 130.36,529.91 130.77,529.00 131.19,528.13 131.61,527.33 132.03,526.58 132.44,525.90 132.86,525.27 133.28,524.71 133.70,524.21 134.11,523.78 134.53,523.41 134.95,523.11 135.37,522.88 135.79,522.72 136.20,522.62 136.62,522.59 137.04,522.63 137.46,522.74 137.87,522.91 138.29,523.15 138.71,523.46 139.13,523.83 139.54,524.27 139.96,524.77 140.38,525.34 140.80,525.97 141.21,526.65 141.63,527.40 142.05,528.21 142.47,529.07 142.89,529.98 143.30,530.95 143.72,531.97 144.14,533.03 144.56,534.15 144.97,535.31 145.39,536.51 145.81,537.75 146.23,539.03 146.64,540.35 147.06,541.70 147.48,543.08 147.90,544.48 148.32,545.92 148.73,547.38 149.15,548.86 149.57,550.36 149.99,551.87 150.40,553.40 150.82,554.94 151.24,556.49 151.66,558.05 152.07,559.61 152.49,561.17 152.91,562.74 153.33,564.30 153.74,565.86 154.16,567.41 154.58,568.96 155.00,570.49 155.42,572.02 155.83,573.53 156.25,575.02 156.67,576.50 157.09,577.97 157.50,579.41 157.92,580.83 158.34,582.23 158.76,583.61 159.17,584.97 159.59,586.30 160.01,587.60 160.43,588.88 160.84,590.13 161.26,591.35 161.68,592.54 162.10,593.71 162.52,594.84 162.93,595.95 163.35,597.03 163.77,598.07 164.19,599.09 164.60,600.07 165.02,601.03 165.44,601.96 165.86,602.85 166.27,603.72 166.69,604.56 167.11,605.36 167.53,606.14 167.94,606.89 168.36,607.62 168.78,608.31 169.20,608.98 169.62,609.62 170.03,610.24 170.45,610.83 170.87,611.39 171.29,611.93 171.70,612.45 172.12,612.94 172.54,613.41 172.96,613.86 173.37,614.29 173.79,614.70 174.21,615.09 174.63,615.46 175.04,615.81 175.46,616.14 175.88,616.46 176.30,616.75 176.72,617.04 177.13,617.30 177.55,617.56 177.97,617.80 178.39,618.02 178.80,618.23 179.22,618.43 179.64,618.62 180.06,618.80 180.47,618.97 180.89,619.12 181.31,619.27 181.73,619.41 182.14,619.54 182.56,619.66 182.98,619.77 183.40,619.88 183.82,619.98 184.23,620.07 184.65,620.15 185.07,620.23 185.49,620.31 185.90,620.38 186.32,620.44 186.74,620.50 187.16,620.55 187.57,620.61 187.99,620.65 188.41,620.70 188.83,620.74 189.25,620.77 189.66,620.81 190.08,620.84 190.50,620.87 190.92,620.89 191.33,620.92 191.75,620.94 192.17,620.96 192.59,620.98 193.00,620.99 193.42,621.01 193.84,621.02 194.26,621.03 194.67,621.04 195.09,621.05 195.51,621.06 195.93,621.07 196.35,621.07 196.76,621.08 197.18,621.08 197.60,621.08 198.02,621.09 198.43,621.09 198.85,621.09 199.27,621.09 199.69,621.09 200.10,621.21 200.52,621.21 200.94,621.20 201.36,621.19 201.77,621.19 202.19,621.18 202.61,621.16 203.03,621.15 203.45,621.14 203.86,621.12 204.28,621.11 204.70,621.09 205.12,621.07 205.53,621.05 205.95,621.02 206.37,621.00 206.79,620.97 207.20,620.94 207.62,620.91 208.04,620.88 208.46,620.84 208.87,620.80 209.29,620.76 209.71,620.72 210.13,620.67 210.55,620.62 210.96,620.56 211.38,620.50 211.80,620.44 212.22,620.38 212.63,620.30 213.05,620.23 213.47,620.15 213.89,620.06 214.30,619.97 214.72,619.88 215.14,619.78 215.56,619.67 215.97,619.55 216.39,619.43 216.81,619.30 217.23,619.17 217.65,619.02 218.06,618.87 218.48,618.71 218.90,618.54 219.32,618.36 219.73,618.17 220.15,617.97 220.57,617.76 220.99,617.54 221.40,617.31 221.82,617.06 222.24,616.81 222.66,616.54 223.07,616.25 223.49,615.95 223.91,615.64 224.33,615.32 224.75,614.97 225.16,614.62 225.58,614.24 226.00,613.85 226.42,613.44 226.83,613.01 227.25,612.57 227.67,612.10 228.09,611.62 228.50,611.12 228.92,610.59 229.34,610.04 229.76,609.48 230.17,608.89 230.59,608.27 231.01,607.64 231.43,606.98 231.85,606.29 232.26,605.59 232.68,604.85 233.10,604.09 233.52,603.31 233.93,602.49 234.35,601.65 234.77,600.79 235.19,599.89 235.60,598.97 236.02,598.02 236.44,597.04 236.86,596.03 237.28,595.00 237.69,593.93 238.11,592.83 238.53,591.70 238.95,590.55 239.36,589.36 239.78,588.14 240.20,586.89 240.62,585.60 241.03,584.29 241.45,582.94 241.87,581.57 242.29,580.16 242.70,578.72 243.12,577.24 243.54,575.74 243.96,574.20 244.38,572.63 244.79,571.02 245.21,569.39 245.63,567.72 246.05,566.02 246.46,564.28 246.88,562.51 247.30,560.71 247.72,558.88 248.13,557.01 248.55,555.11 248.97,553.17 249.39,551.20 249.80,549.20 250.22,547.16 250.64,545.09 251.06,542.98 251.48,540.84 251.89,538.66 252.31,536.45 252.73,534.21 253.15,531.93 253.56,529.62 253.98,527.27 254.40,524.89 254.82,522.47 255.23,520.02 255.65,517.54 256.07,515.02 256.49,512.47 256.90,509.89 257.32,507.28 257.74,504.63 258.16,501.96 258.58,499.26 258.99,496.53 259.41,493.77 259.83,490.99 260.25,488.19 260.66,485.36 261.08,482.67 261.50,480.70 261.92,479.37 262.33,477.67 262.75,475.90 263.17,474.18 263.59,472.53 264.00,470.94 264.42,469.42 264.84,467.97 265.26,466.59 265.68,465.29 266.09,464.07 266.51,462.92 266.93,461.86 267.35,460.88 267.76,459.99 268.18,459.18 268.60,458.46 269.02,457.82 269.43,457.28 269.85,456.83 270.27,456.47 270.69,456.21 271.10,456.03 271.52,455.95 271.94,455.97 272.36,456.13 272.78,456.42 273.19,456.85 273.61,457.41 274.03,458.10 274.45,458.93 274.86,459.89 275.28,460.97 275.70,462.17 276.12,463.50 276.53,464.95 276.95,466.51 277.37,468.18 277.79,469.96 278.21,471.83 278.62,473.81 279.04,475.88 279.46,478.04 279.88,480.28 280.29,482.61 280.71,485.00 281.13,487.46 281.55,489.99 281.96,492.57 282.38,495.21 282.80,497.89 283.22,500.62 283.63,503.38 284.05,506.17 284.47,508.98 284.89,511.82 285.31,514.67 285.72,517.53 286.14,520.40 286.56,523.27 286.98,526.13 287.39,528.99 287.81,531.83 288.23,534.65 288.65,537.46 289.06,540.24 289.48,542.99 289.90,545.70 290.32,548.39 290.73,551.03 291.15,553.63 291.57,556.19 291.99,558.71 292.41,561.17 292.82,563.58 293.24,565.95 293.66,568.25 294.08,570.51 294.49,572.70 294.91,574.84 295.33,576.92 295.75,578.94 296.16,580.90 296.58,582.80 297.00,584.64 297.42,586.42 297.83,588.14 298.25,589.80 298.67,591.40 299.09,592.94 299.51,594.42 299.92,595.84 300.34,597.21 300.76,598.52 301.18,599.78 301.59,600.99 302.01,602.14 302.43,603.24 302.85,604.28 303.26,605.28 303.68,606.24 304.10,607.14 304.52,608.01 304.93,608.82 305.35,609.60 305.77,610.34 306.19,611.03 306.61,611.69 307.02,612.32 307.44,612.90 307.86,613.46 308.28,613.98 308.69,614.48 309.11,614.94 309.53,615.37 309.95,615.78 310.36,616.17 310.78,616.53 311.20,616.87 311.62,617.18 312.03,617.48 312.45,617.75 312.87,618.01 313.29,618.25 313.71,618.47 314.12,618.68 314.54,618.87 314.96,619.05 315.38,619.22 315.79,619.38 316.21,619.52 316.63,619.65 317.05,619.78 317.46,619.89 317.88,620.00 318.30,620.09 318.72,620.18 319.14,620.27 319.55,620.34 319.97,620.41 320.39,620.48 320.81,620.54 321.22,620.59 321.64,620.64 322.06,620.69 322.48,620.73 322.89,620.77 323.31,620.81 323.73,620.84 324.15,620.87 324.56,620.90 324.98,620.92 325.40,620.95 325.82,620.97 326.24,620.99 326.65,621.01 327.07,621.02 327.49,621.04 327.91,621.05 328.32,621.06 328.74,621.08 329.16,621.09 329.58,621.10 329.99,621.11 330.41,621.11 330.83,621.12 331.25,621.13 331.66,621.13 332.08,621.14 332.50,621.15 332.92,621.15 333.34,621.16 333.75,621.16 334.17,621.17 334.59,621.17 335.01,621.17 335.42,621.18 335.84,621.18 336.26,621.18 336.68,621.19 337.09,621.19 337.51,621.19 337.93,621.19 338.35,621.20 338.76,621.20 339.18,621.20 339.60,621.20" fill="none" stroke="#ff00ff" stroke-width="2.0" stroke-linejoin="round"/>
<polyline points="48.70,621.35 49.19,621.35 49.67,621.35 50.16,621.35 50.64,621.35 51.13,621.35 51.61,621.35 52.10,621.35 52.59,621.35 53.07,621.35 53.56,621.35 54.04,621.35 54.53,621.35 55.01,621.35 55.50,621.35 55.98,621.35 56.47,621.35 56.96,621.35 57.44,621.35 57.93,621.35 58.41,621.35 58.90,621.35 59.38,621.35 59.87,621.35 60.36,621.35 60.84,621.35 61.33,621.35 61.81,621.35 62.30,621.35 62.78,621.35 63.27,621.35 63.75,621.35 64.24,621.35 64.73,621.35 65.21,621.35 65.70,621.34 66.18,621.34 66.67,621.34 67.15,621.34 67.64,621.34 68.13,621.34 68.61,621.34 69.10,621.34 69.58,621.34 70.07,621.33 70.55,621.33 71.04,621.33 71.53,621.33 72.01,621.32 72.50,621.32 72.98,621.31 73.47,621.31 73.95,621.31 74.44,621.30 74.92,621.29 75.41,621.29 75.90,621.28 76.38,621.27 76.87,621.26 77.35,621.25 77.84,621.24 78.32,621.22 78.81,621.21 79.30,621.19 79.78,621.17 80.27,621.15 80.75,621.13 81.24,621.11 81.72,621.08 82.21,621.05 82.69,621.02 83.18,620.98 83.67,620.94 84.15,620.90 84.64,620.85 85.12,620.80 85.61,620.75 86.09,620.68 86.58,620.62 87.07,620.54 87.55,620.47 88.04,620.38 88.52,620.29 89.01,620.18 89.49,620.08 89.98,619.96 90.47,619.83 90.95,619.69 91.44,619.54 91.92,619.38 92.41,619.21 92.89,619.02 93.38,618.82 93.86,618.61 94.35,618.38 94.84,618.13 95.32,617.87 95.81,617.59 96.29,617.29 96.78,616.97 97.26,616.63 97.75,616.27 98.24,615.89 98.72,615.48 99.21,615.05 99.69,614.59 100.18,614.11 100.66,613.59 101.15,613.06 101.64,612.49 102.12,611.89 102.61,611.26 103.09,610.59 103.58,609.90 104.06,609.17 104.55,608.41 105.03,607.61 105.52,606.77 106.01,605.90 106.49,604.99 106.98,604.05 107.46,603.06 107.95,602.04 108.43,600.98 108.92,599.87 109.41,598.73 109.89,597.55 110.38,596.33 110.86,595.07 111.35,593.77 111.83,592.43 112.32,591.06 112.80,589.64 113.29,588.19 113.78,586.69 114.26,585.17 114.75,583.60 115.23,582.01 115.72,580.38 116.20,578.71 116.69,577.02 117.18,575.29 117.66,573.54 118.15,571.76 118.63,569.95 119.12,568.12 119.60,566.27 120.09,564.40 120.58,562.51 121.06,560.60 121.55,558.68 122.03,556.75 122.52,554.81 123.00,552.86 123.49,550.91 123.97,548.96 124.46,547.00 124.95,545.05 125.43,543.10 125.92,541.16 126.40,539.23 126.89,537.31 127.37,535.41 127.86,533.52 128.35,531.66 128.83,529.82 129.32,528.01 129.80,526.23 130.29,524.49 130.77,522.77 131.26,521.10 131.74,519.47 132.23,517.88 132.72,516.35 133.20,514.86 133.69,513.43 134.17,512.05 134.66,510.74 135.14,509.49 135.63,508.30 136.12,507.18 136.60,506.14 137.09,505.17 137.57,504.28 138.06,503.47 138.54,502.75 139.03,502.10 139.52,501.55 140.00,501.09 140.49,500.72 140.97,500.45 141.46,500.27 141.94,500.19 142.43,500.21 142.91,500.33 143.40,500.55 143.89,500.88 144.37,501.31 144.86,501.84 145.34,502.47 145.83,503.21 146.31,504.05 146.80,505.00 147.29,506.04 147.77,507.18 148.26,508.42 148.74,509.75 149.23,511.18 149.71,512.70 150.20,514.30 150.68,515.98 151.17,517.75 151.66,519.59 152.14,521.51 152.63,523.49 153.11,525.53 153.60,527.64 154.08,529.80 154.57,532.00 155.06,534.25 155.54,536.54 156.03,538.86 156.51,541.21 157.00,543.58 157.48,545.97 157.97,548.37 158.46,550.77 158.94,553.18 159.43,555.58 159.91,557.98 160.40,560.36 160.88,562.72 161.37,565.05 161.85,567.37 162.34,569.64 162.83,571.89 163.31,574.09 163.80,576.26 164.28,578.37 164.77,580.44 165.25,582.46 165.74,584.43 166.23,586.34 166.71,588.19 167.20,589.99 167.68,591.73 168.17,593.40 168.65,595.02 169.14,596.57 169.63,598.06 170.11,599.49 170.60,600.86 171.08,602.17 171.57,603.42 172.05,604.61 172.54,605.74 173.02,606.81 173.51,607.83 174.00,608.79 174.48,609.70 174.97,610.56 175.45,611.36 175.94,612.12 176.42,612.84 176.91,613.50 177.40,614.13 177.88,614.71 178.37,615.26 178.85,615.76 179.34,616.24 179.82,616.67 180.31,617.08 180.79,617.46 181.28,617.80 181.77,618.12 182.25,618.42 182.74,618.69 183.22,618.94 183.71,619.17 184.19,619.38 184.68,619.57 185.17,619.74 185.65,619.90 186.14,620.05 186.62,620.18 187.11,620.30 187.59,620.41 188.08,620.51 188.57,620.60 189.05,620.67 189.54,620.75 190.02,620.81 190.51,620.87 190.99,620.92 191.48,620.96 191.96,621.00 192.45,621.04 192.94,621.07 193.42,621.10 193.91,621.12 194.39,621.14 194.88,621.16 195.36,621.18 195.85,621.19 196.34,621.20 196.82,621.21 197.31,621.21 197.79,621.22 198.28,621.22 198.76,621.22 199.25,621.22 199.73,621.22 200.22,621.21 200.71,621.21 201.19,621.20 201.68,621.19 202.16,621.18 202.65,621.16 203.13,621.15 203.62,621.13 204.11,621.11 204.59,621.09 205.08,621.07 205.56,621.05 206.05,621.02 206.53,620.99 207.02,620.96 207.51,620.92 207.99,620.88 208.48,620.84 208.96,620.79 209.45,620.74 209.93,620.69 210.42,620.63 210.90,620.57 211.39,620.50 211.88,620.43 212.36,620.35 212.85,620.27 213.33,620.18 213.82,620.08 214.30,619.97 214.79,619.86 215.28,619.74 215.76,619.61 216.25,619.47 216.73,619.33 217.22,619.17 217.70,619.00 218.19,618.82 218.67,618.63 219.16,618.43 219.65,618.21 220.13,617.98 220.62,617.74 221.10,617.48 221.59,617.20 222.07,616.91 222.56,616.60 223.05,616.27 223.53,615.93 224.02,615.56 224.50,615.17 224.99,614.77 225.47,614.34 225.96,613.89 226.45,613.41 226.93,612.91 227.42,612.39 227.90,611.84 228.39,611.26 228.87,610.65 229.36,610.02 229.84,609.36 230.33,608.66 230.82,607.94 231.30,607.18 231.79,606.39 232.27,605.57 232.76,604.71 233.24,603.82 233.73,602.89 234.22,601.93 234.70,600.93 235.19,599.89 235.67,598.82 236.16,597.71 236.64,596.55 237.13,595.36 237.62,594.13 238.10,592.86 238.59,591.54 239.07,590.19 239.56,588.79 240.04,587.35 240.53,585.87 241.01,584.35 241.50,582.79 241.99,581.18 242.47,579.52 242.96,577.83 243.44,576.09 243.93,574.31 244.41,572.48 244.90,570.61 245.39,568.69 245.87,566.73 246.36,564.73 246.84,562.68 247.33,560.59 247.81,558.45 248.30,556.26 248.78,554.03 249.27,551.75 249.76,549.43 250.24,547.06 250.73,544.65 251.21,542.19 251.70,539.68 252.18,537.13 252.67,534.53 253.16,531.88 253.64,529.18 254.13,526.44 254.61,523.66 255.10,520.82 255.58,517.94 256.07,515.02 256.56,512.05 257.04,509.04 257.53,505.99 258.01,502.89 258.50,499.76 258.98,496.59 259.47,493.38 259.95,490.15 260.44,486.88 260.93,483.58 261.41,480.26 261.90,476.92 262.38,473.57 262.87,470.20 263.35,466.83 263.84,463.46 264.33,460.10 264.81,456.75 265.30,453.42 265.78,450.11 266.27,446.83 266.75,443.60 267.24,440.42 267.72,437.30 268.21,434.24 268.70,431.26 269.18,428.36 269.67,425.56 270.15,422.87 270.64,420.29 271.12,417.83 271.61,415.51 272.10,413.33 272.58,411.30 273.07,409.44 273.55,407.74 274.04,406.23 274.52,404.90 275.01,403.77 275.50,402.84 275.98,402.12 276.47,401.61 276.95,401.33 277.44,401.26 277.92,401.43 278.41,401.83 278.89,402.46 279.38,403.32 279.87,404.42 280.35,405.74 280.84,407.30 281.32,409.09 281.81,411.10 282.29,413.33 282.78,415.78 283.27,418.44 283.75,421.29 284.24,424.34 284.72,427.57 285.21,430.98 285.69,434.55 286.18,438.28 286.66,442.15 287.15,446.15 287.64,450.27 288.12,454.49 288.61,458.82 289.09,463.22 289.58,467.70 290.06,472.23 290.55,476.80 291.04,481.41 291.52,486.04 292.01,490.68 292.49,495.31 292.98,499.92 293.46,504.51 293.95,509.07 294.44,513.57 294.92,518.02 295.41,522.41 295.89,526.72 296.38,530.96 296.86,535.10 297.35,539.16 297.83,543.11 298.32,546.96 298.81,550.70 299.29,554.33 299.78,557.85 300.26,561.25 300.75,564.53 301.23,567.69 301.72,570.73 302.21,573.64 302.69,576.44 303.18,579.12 303.66,581.68 304.15,584.12 304.63,586.44 305.12,588.66 305.61,590.76 306.09,592.75 306.58,594.64 307.06,596.43 307.55,598.11 308.03,599.71 308.52,601.21 309.00,602.62 309.49,603.94 309.98,605.19 310.46,606.36 310.95,607.45 311.43,608.47 311.92,609.43 312.40,610.32 312.89,611.15 313.38,611.93 313.86,612.65 314.35,613.32 314.83,613.95 315.32,614.53 315.80,615.06 316.29,615.56 316.77,616.02 317.26,616.45 317.75,616.84 318.23,617.21 318.72,617.54 319.20,617.86 319.69,618.14 320.17,618.41 320.66,618.65 321.15,618.88 321.63,619.08 322.12,619.27 322.60,619.45 323.09,619.61 323.57,619.76 324.06,619.89 324.55,620.02 325.03,620.13 325.52,620.24 326.00,620.33 326.49,620.42 326.97,620.50 327.46,620.58 327.94,620.64 328.43,620.71 328.92,620.76 329.40,620.81 329.89,620.86 330.37,620.91 330.86,620.95 331.34,620.98 331.83,621.02 332.32,621.05 332.80,621.07 333.29,621.10 333.77,621.12 334.26,621.14 334.74,621.16 335.23,621.18 335.71,621.20 336.20,621.21 336.69,621.22 337.17,621.24 337.66,621.25 338.14,621.26 338.63,621.27 339.11,621.27 339.60,621.28" fill="none" stroke="#ff0000" stroke-width="2.0" stroke-linejoin="round"/>
</g>
<rect x="48.85" y="358.0" width="290.65" height="289.50" fill="none" stroke="#000" stroke-width="1.1"/>
<path d="M106.88 647.50V638.50M106.88 358.00V367.00M165.06 647.50V638.50M165.06 358.00V367.00M223.24 647.50V638.50M223.24 358.00V367.00M281.42 647.50V638.50M281.42 358.00V367.00M77.79 647.50V643.00M77.79 358.00V362.50M135.97 647.50V643.00M135.97 358.00V362.50M194.15 647.50V643.00M194.15 358.00V362.50M252.33 647.50V643.00M252.33 358.00V362.50M310.51 647.50V643.00M310.51 358.00V362.50M48.85 621.35H57.85M339.50 621.35H330.50M48.85 555.40H57.85M339.50 555.40H330.50M48.85 489.45H57.85M339.50 489.45H330.50M48.85 423.50H57.85M339.50 423.50H330.50M48.85 588.38H53.35M339.50 588.38H335.00M48.85 522.42H53.35M339.50 522.42H335.00M48.85 456.48H53.35M339.50 456.48H335.00M48.85 390.52H53.35M339.50 390.52H335.00" stroke="#000" stroke-width="1.1" fill="none"/>
<text x="42.20" y="625.95" text-anchor="end" >0.00</text>
<text x="42.20" y="560.00" text-anchor="end" >0.05</text>
<text x="42.20" y="494.05" text-anchor="end" >0.10</text>
<text x="42.20" y="428.10" text-anchor="end" >0.15</text>
<text x="42.20" y="362.15" text-anchor="end" >0.20</text>
<text x="48.70" y="666.80" text-anchor="middle" >660</text>
<text x="106.88" y="666.80" text-anchor="middle" >655</text>
<text x="165.06" y="666.80" text-anchor="middle" >650</text>
<text x="223.24" y="666.80" text-anchor="middle" >645</text>
<text x="281.42" y="666.80" text-anchor="middle" >640</text>
<text x="339.60" y="666.80" text-anchor="middle" >635</text>
<text transform="translate(193.60 681.80) scale(1.03 1)" text-anchor="middle" >binding energy (eV)</text>
<text x="0" y="0" text-anchor="middle" transform="translate(10.3 501.8) rotate(-90) scale(1.03 1)">intensity (a.u)</text>
<text transform="translate(64.80 379.30) scale(1.03 1)" text-anchor="start" >(b)</text>
<text transform="translate(66.00 402.10) scale(1.03 1)" text-anchor="start" >Mn2p</text>
<line x1="67.1" y1="414.7" x2="97.1" y2="414.7" stroke="#006400" stroke-width="2"/>
<line x1="67.1" y1="432.3" x2="97.1" y2="432.3" stroke="#ff00ff" stroke-width="2"/>
<text transform="translate(104.50 418.90) scale(1.03 1)" text-anchor="start" >Mn<tspan dy="-5.5" font-size="8.6">2+</tspan></text>
<text transform="translate(104.50 436.60) scale(1.03 1)" text-anchor="start" >Mn<tspan dy="-5.5" font-size="8.6">3+</tspan></text>
</svg></body></html>
